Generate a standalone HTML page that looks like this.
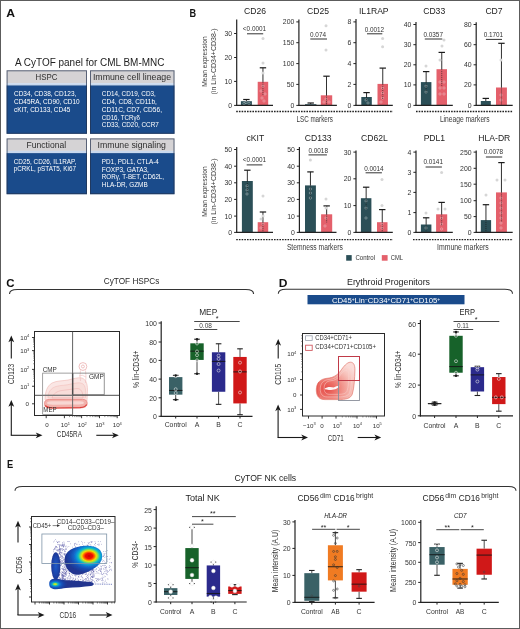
<!DOCTYPE html>
<html><head><meta charset="utf-8"><style>
html,body{margin:0;padding:0;background:#fff;width:520px;height:629px;overflow:hidden}
svg{display:block;will-change:transform}
text{font-family:"Liberation Sans", sans-serif}
</style></head><body>
<svg width="520" height="629" viewBox="0 0 520 629" font-family='"Liberation Sans", sans-serif'>
<defs>
<filter id="blur1" x="-20%" y="-20%" width="140%" height="140%"><feGaussianBlur stdDeviation="0.9"/></filter>
<filter id="blur05" x="-20%" y="-20%" width="140%" height="140%"><feGaussianBlur stdDeviation="0.5"/></filter>
<filter id="blur15" x="-30%" y="-30%" width="160%" height="160%"><feGaussianBlur stdDeviation="1.5"/></filter>
<radialGradient id="dblob" gradientUnits="userSpaceOnUse" cx="326" cy="389" r="36" gradientTransform="translate(326 389) scale(1 0.8) rotate(-30) translate(-326 -389)">
<stop offset="0" stop-color="#e44a46"/><stop offset="0.25" stop-color="#ec6e66"/><stop offset="0.5" stop-color="#f29a92"/><stop offset="0.75" stop-color="#f7c2bb"/><stop offset="1" stop-color="#fbdcd8"/></radialGradient>
<radialGradient id="jet1" gradientUnits="userSpaceOnUse" cx="89" cy="556" r="24" gradientTransform="translate(89 556) scale(1 0.72) translate(-89 -556)">
<stop offset="0" stop-color="#d00000"/><stop offset="0.15" stop-color="#f01000"/><stop offset="0.23" stop-color="#ff6a00"/><stop offset="0.3" stop-color="#f4e000"/><stop offset="0.37" stop-color="#90dc50"/><stop offset="0.45" stop-color="#10c0c0"/><stop offset="0.53" stop-color="#0a90d8"/><stop offset="0.64" stop-color="#1464c8"/><stop offset="0.8" stop-color="#1a46aa"/><stop offset="1" stop-color="#203490"/></radialGradient>
<radialGradient id="jet2" gradientUnits="userSpaceOnUse" cx="55.2" cy="584.2" r="12" gradientTransform="translate(55.2 584.2) scale(1 0.55) translate(-55.2 -584.2)">
<stop offset="0" stop-color="#f0e400"/><stop offset="0.12" stop-color="#a0e040"/><stop offset="0.22" stop-color="#20c0b0"/><stop offset="0.34" stop-color="#0a88d8"/><stop offset="0.5" stop-color="#1658c0"/><stop offset="0.75" stop-color="#1a40a2"/><stop offset="1" stop-color="#22358f"/></radialGradient>
<radialGradient id="jet3" cx="0.5" cy="0.5" r="0.55">
<stop offset="0" stop-color="#1a5ac8"/><stop offset="0.6" stop-color="#1a44aa"/><stop offset="1" stop-color="#233590"/></radialGradient>
</defs>
<rect x="0.00" y="0.00" width="520.00" height="629.00" fill="#ffffff" />
<text x="6.20" y="16.60" font-size="11.4" fill="#111" font-weight="bold" textLength="8.80" lengthAdjust="spacingAndGlyphs" >A</text>
<text x="15.00" y="65.60" font-size="10" fill="#222" textLength="149.40" lengthAdjust="spacingAndGlyphs" >A CyTOF panel for CML BM-MNC</text>
<rect x="6.60" y="70.30" width="80.40" height="12.90" fill="#d5d3d5" />
<rect x="6.60" y="83.20" width="80.40" height="2.20" fill="#c9d9ee" />
<rect x="6.60" y="85.40" width="80.40" height="48.40" fill="#1a4b8b" />
<rect x="7.10" y="70.80" width="79.40" height="62.50" fill="none" stroke="#23324f" stroke-width="1" opacity="0.7"/>
<text x="35.60" y="80.30" font-size="8.6" fill="#2e2e2e" textLength="21.90" lengthAdjust="spacingAndGlyphs" >HSPC</text>
<text x="14.00" y="95.60" font-size="6.5" fill="#ffffff" textLength="62.30" lengthAdjust="spacingAndGlyphs" >CD34, CD38, CD123,</text>
<text x="14.00" y="103.60" font-size="6.5" fill="#ffffff" textLength="65.70" lengthAdjust="spacingAndGlyphs" >CD45RA, CD90, CD10</text>
<text x="14.00" y="111.60" font-size="6.5" fill="#ffffff" textLength="56.40" lengthAdjust="spacingAndGlyphs" >cKIT, CD133, CD45</text>
<rect x="90.00" y="70.30" width="84.50" height="12.90" fill="#d5d3d5" />
<rect x="90.00" y="83.20" width="84.50" height="2.20" fill="#c9d9ee" />
<rect x="90.00" y="85.40" width="84.50" height="48.40" fill="#1a4b8b" />
<rect x="90.50" y="70.80" width="83.50" height="62.50" fill="none" stroke="#23324f" stroke-width="1" opacity="0.7"/>
<text x="92.90" y="80.30" font-size="8.6" fill="#2e2e2e" textLength="78.20" lengthAdjust="spacingAndGlyphs" >Immune cell lineage</text>
<text x="101.80" y="95.60" font-size="6.5" fill="#ffffff" textLength="54.00" lengthAdjust="spacingAndGlyphs" >CD14, CD19, CD3,</text>
<text x="101.80" y="103.60" font-size="6.5" fill="#ffffff" textLength="55.10" lengthAdjust="spacingAndGlyphs" >CD4, CD8, CD11b,</text>
<text x="101.80" y="111.60" font-size="6.5" fill="#ffffff" textLength="60.20" lengthAdjust="spacingAndGlyphs" >CD11C, CD7, CD56,</text>
<text x="101.80" y="119.50" font-size="6.5" fill="#ffffff" textLength="38.10" lengthAdjust="spacingAndGlyphs" >CD16, TCRγδ</text>
<text x="101.80" y="127.30" font-size="6.5" fill="#ffffff" textLength="57.10" lengthAdjust="spacingAndGlyphs" >CD33, CD20, CCR7</text>
<rect x="6.60" y="138.40" width="80.40" height="12.50" fill="#d5d3d5" />
<rect x="6.60" y="150.90" width="80.40" height="2.20" fill="#c9d9ee" />
<rect x="6.60" y="153.10" width="80.40" height="41.10" fill="#1a4b8b" />
<rect x="7.10" y="138.90" width="79.40" height="54.80" fill="none" stroke="#23324f" stroke-width="1" opacity="0.7"/>
<text x="26.60" y="148.00" font-size="8.6" fill="#2e2e2e" textLength="39.50" lengthAdjust="spacingAndGlyphs" >Functional</text>
<text x="13.70" y="163.90" font-size="6.5" fill="#ffffff" textLength="62.60" lengthAdjust="spacingAndGlyphs" >CD25, CD26, IL1RAP,</text>
<text x="13.70" y="171.30" font-size="6.5" fill="#ffffff" textLength="62.30" lengthAdjust="spacingAndGlyphs" >pCRKL, pSTAT5, Ki67</text>
<rect x="90.00" y="138.40" width="84.50" height="12.50" fill="#d5d3d5" />
<rect x="90.00" y="150.90" width="84.50" height="2.20" fill="#c9d9ee" />
<rect x="90.00" y="153.10" width="84.50" height="41.10" fill="#1a4b8b" />
<rect x="90.50" y="138.90" width="83.50" height="54.80" fill="none" stroke="#23324f" stroke-width="1" opacity="0.7"/>
<text x="97.50" y="148.00" font-size="8.6" fill="#2e2e2e" textLength="68.40" lengthAdjust="spacingAndGlyphs" >Immune signaling</text>
<text x="101.80" y="164.10" font-size="6.5" fill="#ffffff" textLength="57.10" lengthAdjust="spacingAndGlyphs" >PD1, PDL1, CTLA-4</text>
<text x="101.80" y="171.50" font-size="6.5" fill="#ffffff" textLength="47.10" lengthAdjust="spacingAndGlyphs" >FOXP3, GATA3,</text>
<text x="101.80" y="179.10" font-size="6.5" fill="#ffffff" textLength="62.30" lengthAdjust="spacingAndGlyphs" >RORγ, T-BET, CD62L,</text>
<text x="101.80" y="186.70" font-size="6.5" fill="#ffffff" textLength="45.90" lengthAdjust="spacingAndGlyphs" >HLA-DR, GZMB</text>
<text x="189.60" y="16.60" font-size="11.4" fill="#111" font-weight="bold" textLength="6.60" lengthAdjust="spacingAndGlyphs" >B</text>
<text x="255.00" y="13.70" font-size="8.6" text-anchor="middle" fill="#222" >CD26</text>
<rect x="240.90" y="101.20" width="11.00" height="4.20" fill="#2b4f57" />
<circle cx="246.00" cy="102.50" r="1.15" fill="none" stroke="#f4f4f4" stroke-width="0.55" opacity="0.6"/>
<circle cx="244.00" cy="103.50" r="1.15" fill="none" stroke="#f4f4f4" stroke-width="0.55" opacity="0.6"/>
<circle cx="249.00" cy="103.50" r="1.15" fill="none" stroke="#f4f4f4" stroke-width="0.55" opacity="0.6"/>
<line x1="246.40" y1="101.20" x2="246.40" y2="99.50" stroke="#1a1a1a" stroke-width="0.9" />
<line x1="243.20" y1="99.50" x2="249.60" y2="99.50" stroke="#1a1a1a" stroke-width="1.2" />
<rect x="257.70" y="81.80" width="10.50" height="23.60" fill="#e4606b" />
<circle cx="263.00" cy="86.00" r="1.15" fill="none" stroke="#f4f4f4" stroke-width="0.55" opacity="0.6"/>
<circle cx="261.00" cy="91.00" r="1.15" fill="none" stroke="#f4f4f4" stroke-width="0.55" opacity="0.6"/>
<circle cx="265.00" cy="94.00" r="1.15" fill="none" stroke="#f4f4f4" stroke-width="0.55" opacity="0.6"/>
<circle cx="262.00" cy="98.00" r="1.15" fill="none" stroke="#f4f4f4" stroke-width="0.55" opacity="0.6"/>
<circle cx="264.00" cy="101.00" r="1.15" fill="none" stroke="#f4f4f4" stroke-width="0.55" opacity="0.6"/>
<line x1="262.95" y1="81.80" x2="262.95" y2="67.80" stroke="#1a1a1a" stroke-width="0.9" />
<line x1="259.75" y1="67.80" x2="266.15" y2="67.80" stroke="#1a1a1a" stroke-width="1.2" />
<line x1="262.95" y1="81.80" x2="262.95" y2="95.80" stroke="#1a1a1a" stroke-width="0.9" stroke-dasharray="1 1" opacity="0.75"/>
<circle cx="263.00" cy="73.00" r="1.5" fill="#d6d6d6" />
<circle cx="263.00" cy="63.00" r="1.5" fill="#d6d6d6" />
<circle cx="263.00" cy="38.50" r="1.5" fill="#d6d6d6" />
<line x1="236.70" y1="19.50" x2="236.70" y2="106.00" stroke="#222222" stroke-width="1.2" />
<line x1="236.10" y1="105.40" x2="273.00" y2="105.40" stroke="#222222" stroke-width="1.2" />
<line x1="234.10" y1="105.40" x2="236.70" y2="105.40" stroke="#222222" stroke-width="1" />
<text x="232.10" y="107.80" font-size="6.9" text-anchor="end" fill="#333333" >0</text>
<line x1="234.10" y1="81.40" x2="236.70" y2="81.40" stroke="#222222" stroke-width="1" />
<text x="232.10" y="83.80" font-size="6.9" text-anchor="end" fill="#333333" >10</text>
<line x1="234.10" y1="57.50" x2="236.70" y2="57.50" stroke="#222222" stroke-width="1" />
<text x="232.10" y="59.90" font-size="6.9" text-anchor="end" fill="#333333" >20</text>
<line x1="234.10" y1="33.50" x2="236.70" y2="33.50" stroke="#222222" stroke-width="1" />
<text x="232.10" y="35.90" font-size="6.9" text-anchor="end" fill="#333333" >30</text>
<text x="254.50" y="31.30" font-size="6.4" text-anchor="middle" fill="#333" >&lt;0.0001</text>
<line x1="247.00" y1="33.80" x2="263.20" y2="33.80" stroke="#333" stroke-width="1.0" />
<text x="318.00" y="13.70" font-size="8.6" text-anchor="middle" fill="#222" >CD25</text>
<rect x="305.00" y="104.20" width="11.40" height="1.20" fill="#2b4f57" />
<line x1="310.70" y1="104.20" x2="310.70" y2="103.00" stroke="#1a1a1a" stroke-width="0.9" />
<line x1="307.50" y1="103.00" x2="313.90" y2="103.00" stroke="#1a1a1a" stroke-width="1.2" />
<rect x="320.80" y="95.30" width="11.40" height="10.10" fill="#e4606b" />
<circle cx="326.00" cy="99.00" r="1.15" fill="none" stroke="#f4f4f4" stroke-width="0.55" opacity="0.6"/>
<circle cx="324.00" cy="102.00" r="1.15" fill="none" stroke="#f4f4f4" stroke-width="0.55" opacity="0.6"/>
<circle cx="329.00" cy="102.00" r="1.15" fill="none" stroke="#f4f4f4" stroke-width="0.55" opacity="0.6"/>
<line x1="326.50" y1="95.30" x2="326.50" y2="76.20" stroke="#1a1a1a" stroke-width="0.9" />
<line x1="323.30" y1="76.20" x2="329.70" y2="76.20" stroke="#1a1a1a" stroke-width="1.2" />
<line x1="326.50" y1="95.30" x2="326.50" y2="104.40" stroke="#1a1a1a" stroke-width="0.9" stroke-dasharray="1 1" opacity="0.75"/>
<circle cx="326.00" cy="25.80" r="1.5" fill="#d6d6d6" />
<circle cx="326.00" cy="49.90" r="1.5" fill="#d6d6d6" />
<line x1="298.90" y1="19.60" x2="298.90" y2="106.00" stroke="#222222" stroke-width="1.2" />
<line x1="298.30" y1="105.40" x2="336.90" y2="105.40" stroke="#222222" stroke-width="1.2" />
<line x1="296.30" y1="105.40" x2="298.90" y2="105.40" stroke="#222222" stroke-width="1" />
<text x="294.30" y="107.80" font-size="6.9" text-anchor="end" fill="#333333" >0</text>
<line x1="296.30" y1="84.40" x2="298.90" y2="84.40" stroke="#222222" stroke-width="1" />
<text x="294.30" y="86.80" font-size="6.9" text-anchor="end" fill="#333333" >50</text>
<line x1="296.30" y1="63.60" x2="298.90" y2="63.60" stroke="#222222" stroke-width="1" />
<text x="294.30" y="66.00" font-size="6.9" text-anchor="end" fill="#333333" >100</text>
<line x1="296.30" y1="42.70" x2="298.90" y2="42.70" stroke="#222222" stroke-width="1" />
<text x="294.30" y="45.10" font-size="6.9" text-anchor="end" fill="#333333" >150</text>
<line x1="296.30" y1="21.90" x2="298.90" y2="21.90" stroke="#222222" stroke-width="1" />
<text x="294.30" y="24.30" font-size="6.9" text-anchor="end" fill="#333333" >200</text>
<text x="318.00" y="36.80" font-size="6.4" text-anchor="middle" fill="#333" >0.074</text>
<line x1="310.30" y1="39.00" x2="327.00" y2="39.00" stroke="#333" stroke-width="1.0" />
<text x="373.80" y="13.70" font-size="8.6" text-anchor="middle" fill="#222" >IL1RAP</text>
<rect x="361.30" y="97.00" width="10.50" height="8.40" fill="#2b4f57" />
<circle cx="366.00" cy="100.00" r="1.15" fill="none" stroke="#f4f4f4" stroke-width="0.55" opacity="0.6"/>
<circle cx="368.00" cy="103.00" r="1.15" fill="none" stroke="#f4f4f4" stroke-width="0.55" opacity="0.6"/>
<line x1="366.55" y1="97.00" x2="366.55" y2="92.60" stroke="#1a1a1a" stroke-width="0.9" />
<line x1="363.35" y1="92.60" x2="369.75" y2="92.60" stroke="#1a1a1a" stroke-width="1.2" />
<line x1="366.55" y1="97.00" x2="366.55" y2="101.40" stroke="#1a1a1a" stroke-width="0.9" stroke-dasharray="1 1" opacity="0.75"/>
<rect x="377.50" y="83.90" width="10.50" height="21.50" fill="#e4606b" />
<circle cx="382.60" cy="88.00" r="1.15" fill="none" stroke="#f4f4f4" stroke-width="0.55" opacity="0.6"/>
<circle cx="382.60" cy="93.00" r="1.15" fill="none" stroke="#f4f4f4" stroke-width="0.55" opacity="0.6"/>
<circle cx="382.60" cy="98.00" r="1.15" fill="none" stroke="#f4f4f4" stroke-width="0.55" opacity="0.6"/>
<circle cx="381.00" cy="102.00" r="1.15" fill="none" stroke="#f4f4f4" stroke-width="0.55" opacity="0.6"/>
<line x1="382.75" y1="83.90" x2="382.75" y2="68.10" stroke="#1a1a1a" stroke-width="0.9" />
<line x1="379.55" y1="68.10" x2="385.95" y2="68.10" stroke="#1a1a1a" stroke-width="1.2" />
<line x1="382.75" y1="83.90" x2="382.75" y2="99.70" stroke="#1a1a1a" stroke-width="0.9" stroke-dasharray="1 1" opacity="0.75"/>
<circle cx="382.60" cy="38.40" r="1.5" fill="#d6d6d6" />
<circle cx="382.60" cy="46.80" r="1.5" fill="#d6d6d6" />
<line x1="356.00" y1="19.10" x2="356.00" y2="106.00" stroke="#222222" stroke-width="1.2" />
<line x1="355.40" y1="105.40" x2="392.80" y2="105.40" stroke="#222222" stroke-width="1.2" />
<line x1="353.40" y1="105.40" x2="356.00" y2="105.40" stroke="#222222" stroke-width="1" />
<text x="351.40" y="107.80" font-size="6.9" text-anchor="end" fill="#333333" >0</text>
<line x1="353.40" y1="84.40" x2="356.00" y2="84.40" stroke="#222222" stroke-width="1" />
<text x="351.40" y="86.80" font-size="6.9" text-anchor="end" fill="#333333" >2</text>
<line x1="353.40" y1="63.60" x2="356.00" y2="63.60" stroke="#222222" stroke-width="1" />
<text x="351.40" y="66.00" font-size="6.9" text-anchor="end" fill="#333333" >4</text>
<line x1="353.40" y1="42.70" x2="356.00" y2="42.70" stroke="#222222" stroke-width="1" />
<text x="351.40" y="45.10" font-size="6.9" text-anchor="end" fill="#333333" >6</text>
<line x1="353.40" y1="21.90" x2="356.00" y2="21.90" stroke="#222222" stroke-width="1" />
<text x="351.40" y="24.30" font-size="6.9" text-anchor="end" fill="#333333" >8</text>
<text x="374.40" y="31.90" font-size="6.4" text-anchor="middle" fill="#333" >0.0012</text>
<line x1="367.00" y1="33.80" x2="382.30" y2="33.80" stroke="#333" stroke-width="1.0" />
<text x="434.20" y="13.70" font-size="8.6" text-anchor="middle" fill="#222" >CD33</text>
<rect x="420.90" y="82.10" width="10.50" height="23.30" fill="#2b4f57" />
<circle cx="426.00" cy="86.00" r="1.15" fill="none" stroke="#f4f4f4" stroke-width="0.55" opacity="0.6"/>
<circle cx="426.00" cy="92.00" r="1.15" fill="none" stroke="#f4f4f4" stroke-width="0.55" opacity="0.6"/>
<line x1="426.15" y1="82.10" x2="426.15" y2="71.60" stroke="#1a1a1a" stroke-width="0.9" />
<line x1="422.95" y1="71.60" x2="429.35" y2="71.60" stroke="#1a1a1a" stroke-width="1.2" />
<line x1="426.15" y1="82.10" x2="426.15" y2="92.60" stroke="#1a1a1a" stroke-width="0.9" stroke-dasharray="1 1" opacity="0.75"/>
<rect x="436.50" y="69.20" width="10.50" height="36.20" fill="#e4606b" />
<circle cx="440.00" cy="82.00" r="1.15" fill="none" stroke="#f4f4f4" stroke-width="0.55" opacity="0.6"/>
<circle cx="444.00" cy="82.00" r="1.15" fill="none" stroke="#f4f4f4" stroke-width="0.55" opacity="0.6"/>
<circle cx="440.00" cy="88.00" r="1.15" fill="none" stroke="#f4f4f4" stroke-width="0.55" opacity="0.6"/>
<circle cx="444.00" cy="88.00" r="1.15" fill="none" stroke="#f4f4f4" stroke-width="0.55" opacity="0.6"/>
<circle cx="440.00" cy="94.00" r="1.15" fill="none" stroke="#f4f4f4" stroke-width="0.55" opacity="0.6"/>
<circle cx="444.00" cy="94.00" r="1.15" fill="none" stroke="#f4f4f4" stroke-width="0.55" opacity="0.6"/>
<line x1="441.75" y1="69.20" x2="441.75" y2="52.40" stroke="#1a1a1a" stroke-width="0.9" />
<line x1="438.55" y1="52.40" x2="444.95" y2="52.40" stroke="#1a1a1a" stroke-width="1.2" />
<line x1="441.75" y1="69.20" x2="441.75" y2="86.00" stroke="#1a1a1a" stroke-width="0.9" stroke-dasharray="1 1" opacity="0.75"/>
<circle cx="426.00" cy="66.00" r="1.5" fill="#d6d6d6" />
<circle cx="442.00" cy="46.00" r="1.5" fill="#d6d6d6" />
<circle cx="444.00" cy="40.00" r="1.5" fill="#d6d6d6" />
<circle cx="440.00" cy="60.00" r="1.5" fill="#d6d6d6" />
<line x1="416.00" y1="21.90" x2="416.00" y2="106.00" stroke="#222222" stroke-width="1.2" />
<line x1="415.40" y1="105.40" x2="452.80" y2="105.40" stroke="#222222" stroke-width="1.2" />
<line x1="413.40" y1="105.40" x2="416.00" y2="105.40" stroke="#222222" stroke-width="1" />
<text x="411.40" y="107.80" font-size="6.9" text-anchor="end" fill="#333333" >0</text>
<line x1="413.40" y1="84.90" x2="416.00" y2="84.90" stroke="#222222" stroke-width="1" />
<text x="411.40" y="87.30" font-size="6.9" text-anchor="end" fill="#333333" >10</text>
<line x1="413.40" y1="64.80" x2="416.00" y2="64.80" stroke="#222222" stroke-width="1" />
<text x="411.40" y="67.20" font-size="6.9" text-anchor="end" fill="#333333" >20</text>
<line x1="413.40" y1="44.70" x2="416.00" y2="44.70" stroke="#222222" stroke-width="1" />
<text x="411.40" y="47.10" font-size="6.9" text-anchor="end" fill="#333333" >30</text>
<line x1="413.40" y1="24.50" x2="416.00" y2="24.50" stroke="#222222" stroke-width="1" />
<text x="411.40" y="26.90" font-size="6.9" text-anchor="end" fill="#333333" >40</text>
<text x="433.20" y="37.10" font-size="6.4" text-anchor="middle" fill="#333" >0.0357</text>
<line x1="424.80" y1="39.00" x2="442.30" y2="39.00" stroke="#333" stroke-width="1.0" />
<text x="494.00" y="13.70" font-size="8.6" text-anchor="middle" fill="#222" >CD7</text>
<rect x="480.80" y="101.00" width="10.00" height="4.40" fill="#2b4f57" />
<line x1="485.80" y1="101.00" x2="485.80" y2="98.40" stroke="#1a1a1a" stroke-width="0.9" />
<line x1="482.60" y1="98.40" x2="489.00" y2="98.40" stroke="#1a1a1a" stroke-width="1.2" />
<rect x="496.00" y="87.50" width="10.90" height="17.90" fill="#e4606b" />
<circle cx="501.00" cy="95.00" r="1.15" fill="none" stroke="#f4f4f4" stroke-width="0.55" opacity="0.6"/>
<circle cx="501.00" cy="100.00" r="1.15" fill="none" stroke="#f4f4f4" stroke-width="0.55" opacity="0.6"/>
<line x1="501.45" y1="87.50" x2="501.45" y2="43.30" stroke="#1a1a1a" stroke-width="0.9" />
<line x1="498.25" y1="43.30" x2="504.65" y2="43.30" stroke="#1a1a1a" stroke-width="1.2" />
<line x1="501.45" y1="87.50" x2="501.45" y2="104.40" stroke="#1a1a1a" stroke-width="0.9" stroke-dasharray="1 1" opacity="0.75"/>
<circle cx="501.00" cy="60.00" r="1.5" fill="#d6d6d6" />
<line x1="476.20" y1="22.30" x2="476.20" y2="106.00" stroke="#222222" stroke-width="1.2" />
<line x1="475.60" y1="105.40" x2="512.70" y2="105.40" stroke="#222222" stroke-width="1.2" />
<line x1="473.60" y1="105.40" x2="476.20" y2="105.40" stroke="#222222" stroke-width="1" />
<text x="471.60" y="107.80" font-size="6.9" text-anchor="end" fill="#333333" >0</text>
<line x1="473.60" y1="84.90" x2="476.20" y2="84.90" stroke="#222222" stroke-width="1" />
<text x="471.60" y="87.30" font-size="6.9" text-anchor="end" fill="#333333" >20</text>
<line x1="473.60" y1="64.80" x2="476.20" y2="64.80" stroke="#222222" stroke-width="1" />
<text x="471.60" y="67.20" font-size="6.9" text-anchor="end" fill="#333333" >40</text>
<line x1="473.60" y1="44.70" x2="476.20" y2="44.70" stroke="#222222" stroke-width="1" />
<text x="471.60" y="47.10" font-size="6.9" text-anchor="end" fill="#333333" >60</text>
<line x1="473.60" y1="24.50" x2="476.20" y2="24.50" stroke="#222222" stroke-width="1" />
<text x="471.60" y="26.90" font-size="6.9" text-anchor="end" fill="#333333" >80</text>
<text x="493.40" y="37.10" font-size="6.4" text-anchor="middle" fill="#333" >0.1701</text>
<line x1="485.90" y1="39.40" x2="502.00" y2="39.40" stroke="#333" stroke-width="1.0" />
<text x="255.40" y="140.80" font-size="8.6" text-anchor="middle" fill="#222" >cKIT</text>
<rect x="241.90" y="181.00" width="10.90" height="51.40" fill="#2b4f57" />
<circle cx="247.00" cy="186.00" r="1.15" fill="none" stroke="#f4f4f4" stroke-width="0.55" opacity="0.6"/>
<circle cx="247.00" cy="190.00" r="1.15" fill="none" stroke="#f4f4f4" stroke-width="0.55" opacity="0.6"/>
<circle cx="247.00" cy="194.00" r="1.15" fill="none" stroke="#f4f4f4" stroke-width="0.55" opacity="0.6"/>
<line x1="247.35" y1="181.00" x2="247.35" y2="170.20" stroke="#1a1a1a" stroke-width="0.9" />
<line x1="244.15" y1="170.20" x2="250.55" y2="170.20" stroke="#1a1a1a" stroke-width="1.2" />
<line x1="247.35" y1="181.00" x2="247.35" y2="191.80" stroke="#1a1a1a" stroke-width="0.9" stroke-dasharray="1 1" opacity="0.75"/>
<rect x="257.70" y="222.20" width="10.50" height="10.20" fill="#e4606b" />
<circle cx="263.00" cy="224.00" r="1.15" fill="none" stroke="#f4f4f4" stroke-width="0.55" opacity="0.6"/>
<circle cx="261.00" cy="228.00" r="1.15" fill="none" stroke="#f4f4f4" stroke-width="0.55" opacity="0.6"/>
<line x1="262.95" y1="222.20" x2="262.95" y2="212.00" stroke="#1a1a1a" stroke-width="0.9" />
<line x1="259.75" y1="212.00" x2="266.15" y2="212.00" stroke="#1a1a1a" stroke-width="1.2" />
<line x1="262.95" y1="222.20" x2="262.95" y2="231.40" stroke="#1a1a1a" stroke-width="0.9" stroke-dasharray="1 1" opacity="0.75"/>
<circle cx="263.00" cy="196.00" r="1.5" fill="#d6d6d6" />
<circle cx="263.00" cy="216.00" r="1.5" fill="#d6d6d6" />
<circle cx="261.00" cy="219.00" r="1.5" fill="#d6d6d6" />
<line x1="236.70" y1="146.90" x2="236.70" y2="233.00" stroke="#222222" stroke-width="1.2" />
<line x1="236.10" y1="232.40" x2="273.00" y2="232.40" stroke="#222222" stroke-width="1.2" />
<line x1="234.10" y1="232.40" x2="236.70" y2="232.40" stroke="#222222" stroke-width="1" />
<text x="232.10" y="234.80" font-size="6.9" text-anchor="end" fill="#333333" >0</text>
<line x1="234.10" y1="216.10" x2="236.70" y2="216.10" stroke="#222222" stroke-width="1" />
<text x="232.10" y="218.50" font-size="6.9" text-anchor="end" fill="#333333" >10</text>
<line x1="234.10" y1="199.40" x2="236.70" y2="199.40" stroke="#222222" stroke-width="1" />
<text x="232.10" y="201.80" font-size="6.9" text-anchor="end" fill="#333333" >20</text>
<line x1="234.10" y1="182.80" x2="236.70" y2="182.80" stroke="#222222" stroke-width="1" />
<text x="232.10" y="185.20" font-size="6.9" text-anchor="end" fill="#333333" >30</text>
<line x1="234.10" y1="166.20" x2="236.70" y2="166.20" stroke="#222222" stroke-width="1" />
<text x="232.10" y="168.60" font-size="6.9" text-anchor="end" fill="#333333" >40</text>
<line x1="234.10" y1="149.50" x2="236.70" y2="149.50" stroke="#222222" stroke-width="1" />
<text x="232.10" y="151.90" font-size="6.9" text-anchor="end" fill="#333333" >50</text>
<text x="254.50" y="162.30" font-size="6.4" text-anchor="middle" fill="#333" >&lt;0.0001</text>
<line x1="246.70" y1="164.90" x2="262.40" y2="164.90" stroke="#333" stroke-width="1.0" />
<text x="318.20" y="141.00" font-size="8.6" text-anchor="middle" fill="#222" >CD133</text>
<rect x="305.00" y="185.40" width="10.90" height="47.00" fill="#2b4f57" />
<circle cx="310.40" cy="189.00" r="1.15" fill="none" stroke="#f4f4f4" stroke-width="0.55" opacity="0.6"/>
<circle cx="310.40" cy="193.00" r="1.15" fill="none" stroke="#f4f4f4" stroke-width="0.55" opacity="0.6"/>
<circle cx="310.40" cy="198.00" r="1.15" fill="none" stroke="#f4f4f4" stroke-width="0.55" opacity="0.6"/>
<line x1="310.45" y1="185.40" x2="310.45" y2="171.90" stroke="#1a1a1a" stroke-width="0.9" />
<line x1="307.25" y1="171.90" x2="313.65" y2="171.90" stroke="#1a1a1a" stroke-width="1.2" />
<line x1="310.45" y1="185.40" x2="310.45" y2="198.90" stroke="#1a1a1a" stroke-width="0.9" stroke-dasharray="1 1" opacity="0.75"/>
<rect x="321.10" y="214.30" width="11.10" height="18.10" fill="#e4606b" />
<circle cx="326.00" cy="212.00" r="1.15" fill="none" stroke="#f4f4f4" stroke-width="0.55" opacity="0.6"/>
<circle cx="326.00" cy="218.00" r="1.15" fill="none" stroke="#f4f4f4" stroke-width="0.55" opacity="0.6"/>
<circle cx="325.00" cy="226.00" r="1.15" fill="none" stroke="#f4f4f4" stroke-width="0.55" opacity="0.6"/>
<line x1="326.65" y1="214.30" x2="326.65" y2="205.90" stroke="#1a1a1a" stroke-width="0.9" />
<line x1="323.45" y1="205.90" x2="329.85" y2="205.90" stroke="#1a1a1a" stroke-width="1.2" />
<line x1="326.65" y1="214.30" x2="326.65" y2="222.70" stroke="#1a1a1a" stroke-width="0.9" stroke-dasharray="1 1" opacity="0.75"/>
<circle cx="310.40" cy="160.00" r="1.5" fill="#d6d6d6" />
<circle cx="326.00" cy="199.00" r="1.5" fill="#d6d6d6" />
<circle cx="326.00" cy="208.00" r="1.5" fill="#d6d6d6" />
<line x1="299.40" y1="146.90" x2="299.40" y2="233.00" stroke="#222222" stroke-width="1.2" />
<line x1="298.80" y1="232.40" x2="336.50" y2="232.40" stroke="#222222" stroke-width="1.2" />
<line x1="296.80" y1="232.40" x2="299.40" y2="232.40" stroke="#222222" stroke-width="1" />
<text x="294.80" y="234.80" font-size="6.9" text-anchor="end" fill="#333333" >0</text>
<line x1="296.80" y1="216.10" x2="299.40" y2="216.10" stroke="#222222" stroke-width="1" />
<text x="294.80" y="218.50" font-size="6.9" text-anchor="end" fill="#333333" >10</text>
<line x1="296.80" y1="199.40" x2="299.40" y2="199.40" stroke="#222222" stroke-width="1" />
<text x="294.80" y="201.80" font-size="6.9" text-anchor="end" fill="#333333" >20</text>
<line x1="296.80" y1="182.80" x2="299.40" y2="182.80" stroke="#222222" stroke-width="1" />
<text x="294.80" y="185.20" font-size="6.9" text-anchor="end" fill="#333333" >30</text>
<line x1="296.80" y1="166.20" x2="299.40" y2="166.20" stroke="#222222" stroke-width="1" />
<text x="294.80" y="168.60" font-size="6.9" text-anchor="end" fill="#333333" >40</text>
<line x1="296.80" y1="149.50" x2="299.40" y2="149.50" stroke="#222222" stroke-width="1" />
<text x="294.80" y="151.90" font-size="6.9" text-anchor="end" fill="#333333" >50</text>
<text x="318.20" y="152.60" font-size="6.4" text-anchor="middle" fill="#333" >0.0018</text>
<line x1="308.50" y1="154.90" x2="326.90" y2="154.90" stroke="#333" stroke-width="1.0" />
<text x="374.40" y="141.00" font-size="8.6" text-anchor="middle" fill="#222" >CD62L</text>
<rect x="360.90" y="198.20" width="10.50" height="34.20" fill="#2b4f57" />
<circle cx="366.00" cy="201.00" r="1.15" fill="none" stroke="#f4f4f4" stroke-width="0.55" opacity="0.6"/>
<circle cx="366.00" cy="208.00" r="1.15" fill="none" stroke="#f4f4f4" stroke-width="0.55" opacity="0.6"/>
<circle cx="366.00" cy="218.00" r="1.15" fill="none" stroke="#f4f4f4" stroke-width="0.55" opacity="0.6"/>
<line x1="366.15" y1="198.20" x2="366.15" y2="187.20" stroke="#1a1a1a" stroke-width="0.9" />
<line x1="362.95" y1="187.20" x2="369.35" y2="187.20" stroke="#1a1a1a" stroke-width="1.2" />
<line x1="366.15" y1="198.20" x2="366.15" y2="209.20" stroke="#1a1a1a" stroke-width="0.9" stroke-dasharray="1 1" opacity="0.75"/>
<rect x="377.00" y="222.20" width="10.50" height="10.20" fill="#e4606b" />
<circle cx="382.00" cy="224.00" r="1.15" fill="none" stroke="#f4f4f4" stroke-width="0.55" opacity="0.6"/>
<circle cx="382.00" cy="228.00" r="1.15" fill="none" stroke="#f4f4f4" stroke-width="0.55" opacity="0.6"/>
<line x1="382.25" y1="222.20" x2="382.25" y2="209.60" stroke="#1a1a1a" stroke-width="0.9" />
<line x1="379.05" y1="209.60" x2="385.45" y2="209.60" stroke="#1a1a1a" stroke-width="1.2" />
<line x1="382.25" y1="222.20" x2="382.25" y2="231.40" stroke="#1a1a1a" stroke-width="0.9" stroke-dasharray="1 1" opacity="0.75"/>
<circle cx="382.00" cy="179.50" r="1.5" fill="#d6d6d6" />
<circle cx="382.00" cy="205.50" r="1.5" fill="#d6d6d6" />
<line x1="356.00" y1="150.40" x2="356.00" y2="233.00" stroke="#222222" stroke-width="1.2" />
<line x1="355.40" y1="232.40" x2="392.80" y2="232.40" stroke="#222222" stroke-width="1.2" />
<line x1="353.40" y1="232.40" x2="356.00" y2="232.40" stroke="#222222" stroke-width="1" />
<text x="351.40" y="234.80" font-size="6.9" text-anchor="end" fill="#333333" >0</text>
<line x1="353.40" y1="205.60" x2="356.00" y2="205.60" stroke="#222222" stroke-width="1" />
<text x="351.40" y="208.00" font-size="6.9" text-anchor="end" fill="#333333" >10</text>
<line x1="353.40" y1="178.80" x2="356.00" y2="178.80" stroke="#222222" stroke-width="1" />
<text x="351.40" y="181.20" font-size="6.9" text-anchor="end" fill="#333333" >20</text>
<line x1="353.40" y1="152.10" x2="356.00" y2="152.10" stroke="#222222" stroke-width="1" />
<text x="351.40" y="154.50" font-size="6.9" text-anchor="end" fill="#333333" >30</text>
<text x="373.90" y="170.70" font-size="6.4" text-anchor="middle" fill="#333" >0.0014</text>
<line x1="365.60" y1="172.80" x2="381.90" y2="172.80" stroke="#333" stroke-width="1.0" />
<text x="434.40" y="141.00" font-size="8.6" text-anchor="middle" fill="#222" >PDL1</text>
<rect x="420.90" y="224.50" width="10.50" height="7.90" fill="#2b4f57" />
<circle cx="426.00" cy="228.00" r="1.15" fill="none" stroke="#f4f4f4" stroke-width="0.55" opacity="0.6"/>
<line x1="426.15" y1="224.50" x2="426.15" y2="217.80" stroke="#1a1a1a" stroke-width="0.9" />
<line x1="422.95" y1="217.80" x2="429.35" y2="217.80" stroke="#1a1a1a" stroke-width="1.2" />
<line x1="426.15" y1="224.50" x2="426.15" y2="231.20" stroke="#1a1a1a" stroke-width="0.9" stroke-dasharray="1 1" opacity="0.75"/>
<rect x="436.10" y="214.30" width="11.10" height="18.10" fill="#e4606b" />
<circle cx="441.60" cy="218.00" r="1.15" fill="none" stroke="#f4f4f4" stroke-width="0.55" opacity="0.6"/>
<circle cx="441.60" cy="224.00" r="1.15" fill="none" stroke="#f4f4f4" stroke-width="0.55" opacity="0.6"/>
<circle cx="441.60" cy="229.00" r="1.15" fill="none" stroke="#f4f4f4" stroke-width="0.55" opacity="0.6"/>
<line x1="441.65" y1="214.30" x2="441.65" y2="202.40" stroke="#1a1a1a" stroke-width="0.9" />
<line x1="438.45" y1="202.40" x2="444.85" y2="202.40" stroke="#1a1a1a" stroke-width="1.2" />
<line x1="441.65" y1="214.30" x2="441.65" y2="226.20" stroke="#1a1a1a" stroke-width="0.9" stroke-dasharray="1 1" opacity="0.75"/>
<circle cx="426.00" cy="213.00" r="1.5" fill="#d6d6d6" />
<circle cx="441.60" cy="172.50" r="1.5" fill="#d6d6d6" />
<circle cx="438.00" cy="209.00" r="1.5" fill="#d6d6d6" />
<circle cx="445.00" cy="209.00" r="1.5" fill="#d6d6d6" />
<line x1="416.00" y1="150.40" x2="416.00" y2="233.00" stroke="#222222" stroke-width="1.2" />
<line x1="415.40" y1="232.40" x2="452.80" y2="232.40" stroke="#222222" stroke-width="1.2" />
<line x1="413.40" y1="232.40" x2="416.00" y2="232.40" stroke="#222222" stroke-width="1" />
<text x="411.40" y="234.80" font-size="6.9" text-anchor="end" fill="#333333" >0</text>
<line x1="413.40" y1="212.60" x2="416.00" y2="212.60" stroke="#222222" stroke-width="1" />
<text x="411.40" y="215.00" font-size="6.9" text-anchor="end" fill="#333333" >1</text>
<line x1="413.40" y1="192.40" x2="416.00" y2="192.40" stroke="#222222" stroke-width="1" />
<text x="411.40" y="194.80" font-size="6.9" text-anchor="end" fill="#333333" >2</text>
<line x1="413.40" y1="172.30" x2="416.00" y2="172.30" stroke="#222222" stroke-width="1" />
<text x="411.40" y="174.70" font-size="6.9" text-anchor="end" fill="#333333" >3</text>
<line x1="413.40" y1="152.10" x2="416.00" y2="152.10" stroke="#222222" stroke-width="1" />
<text x="411.40" y="154.50" font-size="6.9" text-anchor="end" fill="#333333" >4</text>
<text x="433.20" y="164.30" font-size="6.4" text-anchor="middle" fill="#333" >0.0141</text>
<line x1="425.60" y1="167.00" x2="441.90" y2="167.00" stroke="#333" stroke-width="1.0" />
<text x="494.30" y="141.00" font-size="8.6" text-anchor="middle" fill="#222" >HLA-DR</text>
<rect x="480.80" y="220.10" width="10.30" height="12.30" fill="#2b4f57" />
<line x1="485.95" y1="220.10" x2="485.95" y2="204.70" stroke="#1a1a1a" stroke-width="0.9" />
<line x1="482.75" y1="204.70" x2="489.15" y2="204.70" stroke="#1a1a1a" stroke-width="1.2" />
<line x1="485.95" y1="220.10" x2="485.95" y2="231.40" stroke="#1a1a1a" stroke-width="0.9" stroke-dasharray="1 1" opacity="0.75"/>
<rect x="496.00" y="192.40" width="10.90" height="40.00" fill="#e4606b" />
<circle cx="501.00" cy="198.00" r="1.15" fill="none" stroke="#f4f4f4" stroke-width="0.55" opacity="0.6"/>
<circle cx="501.00" cy="203.00" r="1.15" fill="none" stroke="#f4f4f4" stroke-width="0.55" opacity="0.6"/>
<circle cx="501.00" cy="208.00" r="1.15" fill="none" stroke="#f4f4f4" stroke-width="0.55" opacity="0.6"/>
<circle cx="501.00" cy="213.00" r="1.15" fill="none" stroke="#f4f4f4" stroke-width="0.55" opacity="0.6"/>
<circle cx="501.00" cy="218.00" r="1.15" fill="none" stroke="#f4f4f4" stroke-width="0.55" opacity="0.6"/>
<circle cx="501.00" cy="223.00" r="1.15" fill="none" stroke="#f4f4f4" stroke-width="0.55" opacity="0.6"/>
<circle cx="501.00" cy="228.00" r="1.15" fill="none" stroke="#f4f4f4" stroke-width="0.55" opacity="0.6"/>
<line x1="501.45" y1="192.40" x2="501.45" y2="162.60" stroke="#1a1a1a" stroke-width="0.9" />
<line x1="498.25" y1="162.60" x2="504.65" y2="162.60" stroke="#1a1a1a" stroke-width="1.2" />
<line x1="501.45" y1="192.40" x2="501.45" y2="222.20" stroke="#1a1a1a" stroke-width="0.9" stroke-dasharray="1 1" opacity="0.75"/>
<circle cx="486.00" cy="195.00" r="1.5" fill="#d6d6d6" />
<circle cx="497.00" cy="180.00" r="1.5" fill="#d6d6d6" />
<circle cx="505.00" cy="180.00" r="1.5" fill="#d6d6d6" />
<line x1="476.20" y1="150.40" x2="476.20" y2="233.00" stroke="#222222" stroke-width="1.2" />
<line x1="475.60" y1="232.40" x2="512.70" y2="232.40" stroke="#222222" stroke-width="1.2" />
<line x1="473.60" y1="232.40" x2="476.20" y2="232.40" stroke="#222222" stroke-width="1" />
<text x="471.60" y="234.80" font-size="6.9" text-anchor="end" fill="#333333" >0</text>
<line x1="473.60" y1="216.60" x2="476.20" y2="216.60" stroke="#222222" stroke-width="1" />
<text x="471.60" y="219.00" font-size="6.9" text-anchor="end" fill="#333333" >50</text>
<line x1="473.60" y1="200.70" x2="476.20" y2="200.70" stroke="#222222" stroke-width="1" />
<text x="471.60" y="203.10" font-size="6.9" text-anchor="end" fill="#333333" >100</text>
<line x1="473.60" y1="184.20" x2="476.20" y2="184.20" stroke="#222222" stroke-width="1" />
<text x="471.60" y="186.60" font-size="6.9" text-anchor="end" fill="#333333" >150</text>
<line x1="473.60" y1="168.30" x2="476.20" y2="168.30" stroke="#222222" stroke-width="1" />
<text x="471.60" y="170.70" font-size="6.9" text-anchor="end" fill="#333333" >200</text>
<line x1="473.60" y1="152.10" x2="476.20" y2="152.10" stroke="#222222" stroke-width="1" />
<text x="471.60" y="154.50" font-size="6.9" text-anchor="end" fill="#333333" >250</text>
<text x="493.40" y="154.40" font-size="6.4" text-anchor="middle" fill="#333" >0.0078</text>
<line x1="485.90" y1="157.00" x2="502.20" y2="157.00" stroke="#333" stroke-width="1.0" />
<text x="206.70" y="61.50" font-size="7.9" text-anchor="middle" fill="#3a3a3a" textLength="50.30" lengthAdjust="spacingAndGlyphs" transform="rotate(-90 206.70 61.50)" >Mean expression</text>
<text x="216.00" y="61.50" font-size="7.9" text-anchor="middle" fill="#3a3a3a" textLength="66.00" lengthAdjust="spacingAndGlyphs" transform="rotate(-90 216.00 61.50)" >(in Lin-CD34+CD38-)</text>
<text x="206.70" y="191.50" font-size="7.9" text-anchor="middle" fill="#3a3a3a" textLength="50.30" lengthAdjust="spacingAndGlyphs" transform="rotate(-90 206.70 191.50)" >Mean expression</text>
<text x="216.00" y="191.50" font-size="7.9" text-anchor="middle" fill="#3a3a3a" textLength="66.00" lengthAdjust="spacingAndGlyphs" transform="rotate(-90 216.00 191.50)" >(in Lin-CD34+CD38-)</text>
<line x1="236.20" y1="111.50" x2="393.00" y2="111.50" stroke="#222" stroke-width="1.4" stroke-dasharray="1.6 1.1"/>
<line x1="416.00" y1="111.50" x2="513.00" y2="111.50" stroke="#222" stroke-width="1.4" stroke-dasharray="1.6 1.1"/>
<line x1="236.20" y1="239.60" x2="393.00" y2="239.60" stroke="#222" stroke-width="1.4" stroke-dasharray="1.6 1.1"/>
<line x1="413.00" y1="239.60" x2="513.00" y2="239.60" stroke="#222" stroke-width="1.4" stroke-dasharray="1.6 1.1"/>
<text x="296.50" y="122.30" font-size="8.4" fill="#3a3a3a" textLength="36.50" lengthAdjust="spacingAndGlyphs" >LSC markers</text>
<text x="439.90" y="122.40" font-size="8.4" fill="#3a3a3a" textLength="49.80" lengthAdjust="spacingAndGlyphs" >Lineage markers</text>
<text x="286.90" y="249.90" font-size="8.4" fill="#3a3a3a" textLength="55.90" lengthAdjust="spacingAndGlyphs" >Stemness markers</text>
<text x="437.00" y="249.60" font-size="8.4" fill="#3a3a3a" textLength="51.80" lengthAdjust="spacingAndGlyphs" >Immune markers</text>
<rect x="346.20" y="255.10" width="5.50" height="5.60" fill="#2b4f57" />
<text x="355.40" y="260.40" font-size="6.4" fill="#333" textLength="19.60" lengthAdjust="spacingAndGlyphs" >Control</text>
<rect x="381.80" y="255.10" width="5.80" height="5.60" fill="#e4606b" />
<text x="390.80" y="260.40" font-size="6.4" fill="#333" textLength="12.20" lengthAdjust="spacingAndGlyphs" >CML</text>
<text x="6.20" y="287.00" font-size="11.4" fill="#111" font-weight="bold" textLength="8.30" lengthAdjust="spacingAndGlyphs" >C</text>
<text x="103.75" y="284.10" font-size="8.2" fill="#2a2a2a" textLength="55.60" lengthAdjust="spacingAndGlyphs" >CyTOF HSPCs</text>
<path d="M9.50 293.90 Q9.50 289.50 17.20 289.50 L245.90 289.50 Q253.60 289.50 253.60 293.90" fill="none" stroke="#333" stroke-width="1.1"/>
<line x1="175.70" y1="375.33" x2="175.70" y2="377.10" stroke="#3a3a3a" stroke-width="0.9" />
<line x1="175.70" y1="394.65" x2="175.70" y2="399.69" stroke="#3a3a3a" stroke-width="0.9" />
<line x1="172.90" y1="375.33" x2="178.50" y2="375.33" stroke="#222" stroke-width="1.1" />
<line x1="172.90" y1="399.69" x2="178.50" y2="399.69" stroke="#222" stroke-width="1.1" />
<rect x="169.00" y="377.10" width="13.40" height="17.55" fill="#3a6166" />
<line x1="169.00" y1="390.45" x2="182.40" y2="390.45" stroke="#141414" stroke-width="1.1" opacity="0.8"/>
<circle cx="175.70" cy="376.17" r="1.5" fill="none" stroke="#e8e8e8" stroke-width="0.7" opacity="0.85"/>
<circle cx="175.70" cy="389.23" r="1.5" fill="none" stroke="#e8e8e8" stroke-width="0.7" opacity="0.85"/>
<circle cx="175.70" cy="392.97" r="1.5" fill="none" stroke="#e8e8e8" stroke-width="0.7" opacity="0.85"/>
<circle cx="175.70" cy="375.33" r="1.2" fill="#1a1a1a" />
<circle cx="175.70" cy="399.69" r="1.2" fill="#1a1a1a" />
<line x1="175.70" y1="416.30" x2="175.70" y2="418.50" stroke="#222" stroke-width="1" />
<text x="175.70" y="427.30" font-size="6.9" text-anchor="middle" fill="#333" textLength="22.00" lengthAdjust="spacingAndGlyphs" >Control</text>
<line x1="197.00" y1="339.21" x2="197.00" y2="343.32" stroke="#3a3a3a" stroke-width="0.9" />
<line x1="197.00" y1="359.93" x2="197.00" y2="373.74" stroke="#3a3a3a" stroke-width="0.9" />
<line x1="194.20" y1="339.21" x2="199.80" y2="339.21" stroke="#222" stroke-width="1.1" />
<line x1="194.20" y1="373.74" x2="199.80" y2="373.74" stroke="#222" stroke-width="1.1" />
<rect x="190.30" y="343.32" width="13.40" height="16.61" fill="#17622a" />
<line x1="190.30" y1="351.16" x2="203.70" y2="351.16" stroke="#141414" stroke-width="1.1" opacity="0.8"/>
<circle cx="197.00" cy="343.50" r="1.5" fill="none" stroke="#e8e8e8" stroke-width="0.7" opacity="0.85"/>
<circle cx="197.00" cy="351.44" r="1.5" fill="none" stroke="#e8e8e8" stroke-width="0.7" opacity="0.85"/>
<circle cx="197.00" cy="355.17" r="1.5" fill="none" stroke="#e8e8e8" stroke-width="0.7" opacity="0.85"/>
<circle cx="197.00" cy="360.30" r="1.5" fill="none" stroke="#e8e8e8" stroke-width="0.7" opacity="0.85"/>
<circle cx="197.00" cy="339.21" r="1.2" fill="#1a1a1a" />
<circle cx="197.00" cy="373.74" r="1.2" fill="#1a1a1a" />
<line x1="197.00" y1="416.30" x2="197.00" y2="418.50" stroke="#222" stroke-width="1" />
<text x="197.00" y="427.30" font-size="6.9" text-anchor="middle" fill="#333" >A</text>
<line x1="218.60" y1="343.78" x2="218.60" y2="352.28" stroke="#3a3a3a" stroke-width="0.9" />
<line x1="218.60" y1="391.75" x2="218.60" y2="404.35" stroke="#3a3a3a" stroke-width="0.9" />
<line x1="215.80" y1="343.78" x2="221.40" y2="343.78" stroke="#222" stroke-width="1.1" />
<line x1="215.80" y1="404.35" x2="221.40" y2="404.35" stroke="#222" stroke-width="1.1" />
<rect x="211.90" y="352.28" width="13.40" height="39.48" fill="#2b2a8c" />
<line x1="211.90" y1="361.42" x2="225.30" y2="361.42" stroke="#141414" stroke-width="1.1" opacity="0.8"/>
<circle cx="218.60" cy="355.64" r="1.5" fill="none" stroke="#e8e8e8" stroke-width="0.7" opacity="0.85"/>
<circle cx="218.60" cy="358.90" r="1.5" fill="none" stroke="#e8e8e8" stroke-width="0.7" opacity="0.85"/>
<circle cx="218.60" cy="364.04" r="1.5" fill="none" stroke="#e8e8e8" stroke-width="0.7" opacity="0.85"/>
<circle cx="218.60" cy="370.57" r="1.5" fill="none" stroke="#e8e8e8" stroke-width="0.7" opacity="0.85"/>
<line x1="218.60" y1="416.30" x2="218.60" y2="418.50" stroke="#222" stroke-width="1" />
<text x="218.60" y="427.30" font-size="6.9" text-anchor="middle" fill="#333" >B</text>
<line x1="240.00" y1="348.82" x2="240.00" y2="356.94" stroke="#3a3a3a" stroke-width="0.9" />
<line x1="240.00" y1="403.42" x2="240.00" y2="414.71" stroke="#3a3a3a" stroke-width="0.9" />
<line x1="237.20" y1="348.82" x2="242.80" y2="348.82" stroke="#222" stroke-width="1.1" />
<line x1="237.20" y1="414.71" x2="242.80" y2="414.71" stroke="#222" stroke-width="1.1" />
<rect x="233.30" y="356.94" width="13.40" height="46.48" fill="#d01818" />
<line x1="233.30" y1="371.87" x2="246.70" y2="371.87" stroke="#141414" stroke-width="1.1" opacity="0.8"/>
<circle cx="240.00" cy="362.64" r="1.5" fill="none" stroke="#e8e8e8" stroke-width="0.7" opacity="0.85"/>
<circle cx="240.00" cy="371.50" r="1.5" fill="none" stroke="#e8e8e8" stroke-width="0.7" opacity="0.85"/>
<circle cx="240.00" cy="392.50" r="1.5" fill="none" stroke="#e8e8e8" stroke-width="0.7" opacity="0.85"/>
<line x1="240.00" y1="416.30" x2="240.00" y2="418.50" stroke="#222" stroke-width="1" />
<text x="240.00" y="427.30" font-size="6.9" text-anchor="middle" fill="#333" >C</text>
<line x1="161.20" y1="321.20" x2="161.20" y2="416.90" stroke="#222" stroke-width="1.2" />
<line x1="160.60" y1="416.30" x2="252.50" y2="416.30" stroke="#222" stroke-width="1.2" />
<line x1="158.60" y1="416.30" x2="161.20" y2="416.30" stroke="#222" stroke-width="1" />
<text x="156.80" y="419.30" font-size="6.9" text-anchor="end" fill="#333" >0</text>
<line x1="158.60" y1="397.80" x2="161.20" y2="397.80" stroke="#222" stroke-width="1" />
<text x="156.80" y="400.80" font-size="6.9" text-anchor="end" fill="#333" >20</text>
<line x1="158.60" y1="379.10" x2="161.20" y2="379.10" stroke="#222" stroke-width="1" />
<text x="156.80" y="382.10" font-size="6.9" text-anchor="end" fill="#333" >40</text>
<line x1="158.60" y1="360.40" x2="161.20" y2="360.40" stroke="#222" stroke-width="1" />
<text x="156.80" y="363.40" font-size="6.9" text-anchor="end" fill="#333" >60</text>
<line x1="158.60" y1="342.00" x2="161.20" y2="342.00" stroke="#222" stroke-width="1" />
<text x="156.80" y="345.00" font-size="6.9" text-anchor="end" fill="#333" >80</text>
<line x1="158.60" y1="323.00" x2="161.20" y2="323.00" stroke="#222" stroke-width="1" />
<text x="156.80" y="326.00" font-size="6.9" text-anchor="end" fill="#333" >100</text>
<text x="139.20" y="369.30" font-size="8.4" text-anchor="middle" fill="#333" textLength="37.60" lengthAdjust="spacingAndGlyphs" transform="rotate(-90 139.20 369.30)" >% lin-CD34+</text>
<text x="208.20" y="315.00" font-size="8.4" text-anchor="middle" fill="#2a2a2a" textLength="18.00" lengthAdjust="spacingAndGlyphs" >MEP</text>
<text x="217.10" y="321.40" font-size="7.2" text-anchor="middle" fill="#222" >*</text>
<line x1="194.20" y1="321.50" x2="239.70" y2="321.50" stroke="#333" stroke-width="0.9" />
<line x1="194.20" y1="329.50" x2="217.30" y2="329.50" stroke="#333" stroke-width="0.9" />
<text x="205.60" y="327.90" font-size="6.4" text-anchor="middle" fill="#444" textLength="12.70" lengthAdjust="spacingAndGlyphs" >0.08</text>
<line x1="11.30" y1="358.60" x2="11.30" y2="339.50" stroke="#1a1a1a" stroke-width="1.1" />
<path d="M8.40 342.30 L11.30 335.50 L14.20 342.30 L11.30 340.40 Z" fill="#1a1a1a"/>
<text x="14.40" y="373.90" font-size="8.7" text-anchor="middle" fill="#333" textLength="20.00" lengthAdjust="spacingAndGlyphs" transform="rotate(-90 14.40 373.90)" >CD123</text>
<line x1="11.30" y1="435.30" x2="11.30" y2="404.00" stroke="#1a1a1a" stroke-width="1.1" />
<path d="M8.40 406.80 L11.30 400.00 L14.20 406.80 L11.30 404.90 Z" fill="#1a1a1a"/>
<line x1="10.75" y1="435.30" x2="38.50" y2="435.30" stroke="#1a1a1a" stroke-width="1.1" />
<path d="M35.70 432.40 L42.50 435.30 L35.70 438.20 L37.60 435.30 Z" fill="#1a1a1a"/>
<text x="69.40" y="437.40" font-size="8.6" text-anchor="middle" fill="#333" textLength="25.20" lengthAdjust="spacingAndGlyphs" >CD45RA</text>
<line x1="96.30" y1="435.30" x2="114.80" y2="435.30" stroke="#1a1a1a" stroke-width="1.1" />
<path d="M112.00 432.40 L118.80 435.30 L112.00 438.20 L113.90 435.30 Z" fill="#1a1a1a"/>
<path d="M45 400 C45 392 47 386 52 383 C57 380.5 63 381 68 380 C73 379 78 377 82 378 C86 379.5 87.5 384 87.5 390 L87 401 Z" fill="#fae6e4" stroke="#f0b8b4" stroke-width="0.6" filter="url(#blur05)"/>
<path d="M48 398 C48 392 51 388 56 386.5 C61 385 66 385.5 71 384 C76 383 80 382 83 384 C85.5 386 86 390 85.5 398 Z" fill="#f8dcd8" stroke="#eeb0ac" stroke-width="0.5" opacity="0.85" filter="url(#blur05)"/>
<path d="M52 398 C53 394 57 391 62 390.5 C67 390 72 389 77 388.5 C81 388.5 83 392 83 398 Z" fill="none" stroke="#eaa0a0" stroke-width="0.5" opacity="0.8"/>
<path d="M44.5 403.5 C44.5 400.3 46.5 399.4 51 399.4 L82.5 399.4 C86 399.4 87.2 401 87.2 403.3 C87.2 406.5 85 407.8 80 407.9 L50 408.2 C46 408.2 44.5 406.7 44.5 403.5 Z" fill="#f2b2ac" stroke="#e87a74" stroke-width="0.7" filter="url(#blur05)"/>
<path d="M47 402.8 C47.5 401.6 50 401.3 54 401.3 L80 401.3 C83 401.3 84.2 402.2 83.8 403.2 C83.3 404.2 80 404.5 72 404.6 L54 404.8 C49.5 404.8 46.6 404 47 402.8 Z" fill="#f9dcd8" opacity="0.9" filter="url(#blur05)"/>
<path d="M45.2 405.5 Q48 408.3 56 408 L80 407.6 Q85.5 407.2 86.6 404.5" fill="none" stroke="#d8322e" stroke-width="1.1" opacity="0.85" filter="url(#blur05)"/>
<circle cx="82.90" cy="366.50" r="3.9" fill="none" stroke="#e8a4a4" stroke-width="0.7" />
<circle cx="82.90" cy="366.50" r="1.5" fill="none" stroke="#e49a9a" stroke-width="0.6" />
<path d="M80.5 370.5 Q79.5 375 80.5 381 M85.5 370.5 Q86.5 377 85.5 383 M79 376 Q82 374 86 377" stroke="#efbcbc" stroke-width="0.6" fill="none"/>
<rect x="34.50" y="331.50" width="85.00" height="84.00" fill="none" stroke="#2a2a2a" stroke-width="1" />
<line x1="72.60" y1="331.20" x2="72.60" y2="415.60" stroke="#3a3a3a" stroke-width="0.8" />
<line x1="34.60" y1="395.30" x2="119.20" y2="395.30" stroke="#3a3a3a" stroke-width="0.9" />
<rect x="42.70" y="373.10" width="29.90" height="22.20" fill="none" stroke="#7a7a7a" stroke-width="0.7" />
<line x1="72.60" y1="373.10" x2="72.60" y2="395.30" stroke="#111" stroke-width="1.3" />
<rect x="72.60" y="373.10" width="31.60" height="21.60" fill="none" stroke="#666" stroke-width="0.7" />
<rect x="42.70" y="395.30" width="29.90" height="19.20" fill="none" stroke="#7a7a7a" stroke-width="0.7" />
<text x="42.70" y="372.10" font-size="6.5" fill="#333" textLength="14.20" lengthAdjust="spacingAndGlyphs" >CMP</text>
<text x="89.00" y="379.30" font-size="6.5" fill="#333" textLength="14.80" lengthAdjust="spacingAndGlyphs" >GMP</text>
<text x="43.30" y="412.20" font-size="6.5" fill="#333" textLength="13.40" lengthAdjust="spacingAndGlyphs" >MEP</text>
<line x1="32.00" y1="337.50" x2="34.60" y2="337.50" stroke="#222" stroke-width="0.9" />
<line x1="32.00" y1="350.60" x2="34.60" y2="350.60" stroke="#222" stroke-width="0.9" />
<line x1="32.00" y1="369.40" x2="34.60" y2="369.40" stroke="#222" stroke-width="0.9" />
<line x1="32.00" y1="386.25" x2="34.60" y2="386.25" stroke="#222" stroke-width="0.9" />
<line x1="32.00" y1="403.80" x2="34.60" y2="403.80" stroke="#222" stroke-width="0.9" />
<line x1="33.20" y1="346.66" x2="34.60" y2="346.66" stroke="#444" stroke-width="0.6" />
<line x1="33.20" y1="344.35" x2="34.60" y2="344.35" stroke="#444" stroke-width="0.6" />
<line x1="33.20" y1="342.71" x2="34.60" y2="342.71" stroke="#444" stroke-width="0.6" />
<line x1="33.20" y1="341.44" x2="34.60" y2="341.44" stroke="#444" stroke-width="0.6" />
<line x1="33.20" y1="340.41" x2="34.60" y2="340.41" stroke="#444" stroke-width="0.6" />
<line x1="33.20" y1="339.53" x2="34.60" y2="339.53" stroke="#444" stroke-width="0.6" />
<line x1="33.20" y1="338.77" x2="34.60" y2="338.77" stroke="#444" stroke-width="0.6" />
<line x1="33.20" y1="338.10" x2="34.60" y2="338.10" stroke="#444" stroke-width="0.6" />
<line x1="33.20" y1="363.74" x2="34.60" y2="363.74" stroke="#444" stroke-width="0.6" />
<line x1="33.20" y1="360.43" x2="34.60" y2="360.43" stroke="#444" stroke-width="0.6" />
<line x1="33.20" y1="358.08" x2="34.60" y2="358.08" stroke="#444" stroke-width="0.6" />
<line x1="33.20" y1="356.26" x2="34.60" y2="356.26" stroke="#444" stroke-width="0.6" />
<line x1="33.20" y1="354.77" x2="34.60" y2="354.77" stroke="#444" stroke-width="0.6" />
<line x1="33.20" y1="353.51" x2="34.60" y2="353.51" stroke="#444" stroke-width="0.6" />
<line x1="33.20" y1="352.42" x2="34.60" y2="352.42" stroke="#444" stroke-width="0.6" />
<line x1="33.20" y1="351.46" x2="34.60" y2="351.46" stroke="#444" stroke-width="0.6" />
<line x1="33.20" y1="381.18" x2="34.60" y2="381.18" stroke="#444" stroke-width="0.6" />
<line x1="33.20" y1="378.21" x2="34.60" y2="378.21" stroke="#444" stroke-width="0.6" />
<line x1="33.20" y1="376.11" x2="34.60" y2="376.11" stroke="#444" stroke-width="0.6" />
<line x1="33.20" y1="374.47" x2="34.60" y2="374.47" stroke="#444" stroke-width="0.6" />
<line x1="33.20" y1="373.14" x2="34.60" y2="373.14" stroke="#444" stroke-width="0.6" />
<line x1="33.20" y1="372.01" x2="34.60" y2="372.01" stroke="#444" stroke-width="0.6" />
<line x1="33.20" y1="371.03" x2="34.60" y2="371.03" stroke="#444" stroke-width="0.6" />
<line x1="33.20" y1="370.17" x2="34.60" y2="370.17" stroke="#444" stroke-width="0.6" />
<text x="20.20" y="339.80" font-size="6.2" fill="#333" >10<tspan dy="-2.4" font-size="4">4</tspan></text>
<text x="20.20" y="352.90" font-size="6.2" fill="#333" >10<tspan dy="-2.4" font-size="4">3</tspan></text>
<text x="20.20" y="371.70" font-size="6.2" fill="#333" >10<tspan dy="-2.4" font-size="4">2</tspan></text>
<text x="20.20" y="388.55" font-size="6.2" fill="#333" >10<tspan dy="-2.4" font-size="4">1</tspan></text>
<text x="29.00" y="406.10" font-size="6.2" text-anchor="end" fill="#333" >0</text>
<line x1="46.20" y1="415.60" x2="46.20" y2="418.20" stroke="#222" stroke-width="0.9" />
<line x1="64.40" y1="415.60" x2="64.40" y2="418.20" stroke="#222" stroke-width="0.9" />
<line x1="81.60" y1="415.60" x2="81.60" y2="418.20" stroke="#222" stroke-width="0.9" />
<line x1="99.50" y1="415.60" x2="99.50" y2="418.20" stroke="#222" stroke-width="0.9" />
<line x1="117.20" y1="415.60" x2="117.20" y2="418.20" stroke="#222" stroke-width="0.9" />
<line x1="69.58" y1="415.60" x2="69.58" y2="417.10" stroke="#444" stroke-width="0.6" />
<line x1="72.61" y1="415.60" x2="72.61" y2="417.10" stroke="#444" stroke-width="0.6" />
<line x1="74.76" y1="415.60" x2="74.76" y2="417.10" stroke="#444" stroke-width="0.6" />
<line x1="76.42" y1="415.60" x2="76.42" y2="417.10" stroke="#444" stroke-width="0.6" />
<line x1="77.78" y1="415.60" x2="77.78" y2="417.10" stroke="#444" stroke-width="0.6" />
<line x1="78.94" y1="415.60" x2="78.94" y2="417.10" stroke="#444" stroke-width="0.6" />
<line x1="79.93" y1="415.60" x2="79.93" y2="417.10" stroke="#444" stroke-width="0.6" />
<line x1="80.81" y1="415.60" x2="80.81" y2="417.10" stroke="#444" stroke-width="0.6" />
<line x1="86.99" y1="415.60" x2="86.99" y2="417.10" stroke="#444" stroke-width="0.6" />
<line x1="90.14" y1="415.60" x2="90.14" y2="417.10" stroke="#444" stroke-width="0.6" />
<line x1="92.38" y1="415.60" x2="92.38" y2="417.10" stroke="#444" stroke-width="0.6" />
<line x1="94.11" y1="415.60" x2="94.11" y2="417.10" stroke="#444" stroke-width="0.6" />
<line x1="95.53" y1="415.60" x2="95.53" y2="417.10" stroke="#444" stroke-width="0.6" />
<line x1="96.73" y1="415.60" x2="96.73" y2="417.10" stroke="#444" stroke-width="0.6" />
<line x1="97.77" y1="415.60" x2="97.77" y2="417.10" stroke="#444" stroke-width="0.6" />
<line x1="98.68" y1="415.60" x2="98.68" y2="417.10" stroke="#444" stroke-width="0.6" />
<line x1="104.83" y1="415.60" x2="104.83" y2="417.10" stroke="#444" stroke-width="0.6" />
<line x1="107.95" y1="415.60" x2="107.95" y2="417.10" stroke="#444" stroke-width="0.6" />
<line x1="110.16" y1="415.60" x2="110.16" y2="417.10" stroke="#444" stroke-width="0.6" />
<line x1="111.87" y1="415.60" x2="111.87" y2="417.10" stroke="#444" stroke-width="0.6" />
<line x1="113.27" y1="415.60" x2="113.27" y2="417.10" stroke="#444" stroke-width="0.6" />
<line x1="114.46" y1="415.60" x2="114.46" y2="417.10" stroke="#444" stroke-width="0.6" />
<line x1="115.48" y1="415.60" x2="115.48" y2="417.10" stroke="#444" stroke-width="0.6" />
<line x1="116.39" y1="415.60" x2="116.39" y2="417.10" stroke="#444" stroke-width="0.6" />
<text x="46.90" y="427.40" font-size="6.2" text-anchor="middle" fill="#333" >0</text>
<text x="60.80" y="427.40" font-size="6.2" fill="#333" >10<tspan dy="-2.4" font-size="4">1</tspan></text>
<text x="77.70" y="427.40" font-size="6.2" fill="#333" >10<tspan dy="-2.4" font-size="4">2</tspan></text>
<text x="95.40" y="427.40" font-size="6.2" fill="#333" >10<tspan dy="-2.4" font-size="4">3</tspan></text>
<text x="112.70" y="427.40" font-size="6.2" fill="#333" >10<tspan dy="-2.4" font-size="4">4</tspan></text>
<text x="278.70" y="287.00" font-size="11.4" fill="#111" font-weight="bold" textLength="8.70" lengthAdjust="spacingAndGlyphs" >D</text>
<text x="347.00" y="285.00" font-size="8.2" fill="#222" textLength="83.00" lengthAdjust="spacingAndGlyphs" >Erythroid Progenitors</text>
<path d="M278.30 293.70 Q278.30 289.30 286.00 289.30 L504.80 289.30 Q512.50 289.30 512.50 293.70" fill="none" stroke="#333" stroke-width="1.1"/>
<rect x="307.50" y="295.00" width="157.00" height="9.30" fill="#1a4b8b" />
<text x="331.90" y="303.10" font-size="7.5" fill="#ffffff" textLength="108.20" lengthAdjust="spacingAndGlyphs" >CD45<tspan dy="-2.2" font-size="4.6">+</tspan><tspan dy="2.2">Lin<tspan dy="-2.2" font-size="4.6">−</tspan><tspan dy="2.2">CD34<tspan dy="-2.2" font-size="4.6">+</tspan><tspan dy="2.2">CD71<tspan dy="-2.2" font-size="4.6">+</tspan><tspan dy="2.2">CD105<tspan dy="-2.2" font-size="4.6">+</tspan></tspan></tspan></tspan></tspan></text>
<line x1="434.60" y1="402.11" x2="434.60" y2="403.03" stroke="#3a3a3a" stroke-width="0.9" />
<line x1="434.60" y1="404.11" x2="434.60" y2="405.03" stroke="#3a3a3a" stroke-width="0.9" />
<line x1="431.80" y1="402.11" x2="437.40" y2="402.11" stroke="#222" stroke-width="1.1" />
<line x1="431.80" y1="405.03" x2="437.40" y2="405.03" stroke="#222" stroke-width="1.1" />
<rect x="427.90" y="403.03" width="13.40" height="1.08" fill="#555" />
<line x1="427.90" y1="403.65" x2="441.30" y2="403.65" stroke="#141414" stroke-width="1.1" opacity="0.8"/>
<circle cx="434.60" cy="404.72" r="1.2" fill="#1a1a1a" />
<circle cx="434.60" cy="402.57" r="1.2" fill="#1a1a1a" />
<line x1="434.60" y1="415.80" x2="434.60" y2="418.00" stroke="#222" stroke-width="1" />
<text x="434.60" y="428.00" font-size="6.9" text-anchor="middle" fill="#333" textLength="22.00" lengthAdjust="spacingAndGlyphs" >Control</text>
<line x1="456.00" y1="331.95" x2="456.00" y2="335.80" stroke="#3a3a3a" stroke-width="0.9" />
<line x1="456.00" y1="372.72" x2="456.00" y2="375.80" stroke="#3a3a3a" stroke-width="0.9" />
<line x1="453.20" y1="331.95" x2="458.80" y2="331.95" stroke="#222" stroke-width="1.1" />
<line x1="453.20" y1="375.80" x2="458.80" y2="375.80" stroke="#222" stroke-width="1.1" />
<rect x="449.30" y="335.80" width="13.40" height="36.92" fill="#17622a" />
<line x1="449.30" y1="366.57" x2="462.70" y2="366.57" stroke="#141414" stroke-width="1.1" opacity="0.8"/>
<circle cx="456.00" cy="335.80" r="1.5" fill="none" stroke="#e8e8e8" stroke-width="0.7" opacity="0.85"/>
<circle cx="456.00" cy="361.18" r="1.5" fill="none" stroke="#e8e8e8" stroke-width="0.7" opacity="0.85"/>
<circle cx="456.00" cy="372.72" r="1.5" fill="none" stroke="#e8e8e8" stroke-width="0.7" opacity="0.85"/>
<circle cx="456.00" cy="331.95" r="1.2" fill="#1a1a1a" />
<circle cx="456.00" cy="375.80" r="1.2" fill="#1a1a1a" />
<line x1="456.00" y1="415.80" x2="456.00" y2="418.00" stroke="#222" stroke-width="1" />
<text x="456.00" y="428.00" font-size="6.9" text-anchor="middle" fill="#333" >A</text>
<line x1="477.40" y1="366.26" x2="477.40" y2="367.18" stroke="#3a3a3a" stroke-width="0.9" />
<line x1="477.40" y1="391.49" x2="477.40" y2="395.49" stroke="#3a3a3a" stroke-width="0.9" />
<line x1="474.60" y1="366.26" x2="480.20" y2="366.26" stroke="#222" stroke-width="1.1" />
<line x1="474.60" y1="395.49" x2="480.20" y2="395.49" stroke="#222" stroke-width="1.1" />
<rect x="470.70" y="367.18" width="13.40" height="24.31" fill="#2b2a8c" />
<line x1="470.70" y1="374.88" x2="484.10" y2="374.88" stroke="#141414" stroke-width="1.1" opacity="0.8"/>
<circle cx="477.40" cy="367.34" r="1.5" fill="none" stroke="#e8e8e8" stroke-width="0.7" opacity="0.85"/>
<circle cx="477.40" cy="369.64" r="1.5" fill="none" stroke="#e8e8e8" stroke-width="0.7" opacity="0.85"/>
<circle cx="477.40" cy="381.49" r="1.5" fill="none" stroke="#e8e8e8" stroke-width="0.7" opacity="0.85"/>
<line x1="477.40" y1="415.80" x2="477.40" y2="418.00" stroke="#222" stroke-width="1" />
<text x="477.40" y="428.00" font-size="6.9" text-anchor="middle" fill="#333" >B</text>
<line x1="498.80" y1="373.65" x2="498.80" y2="377.03" stroke="#3a3a3a" stroke-width="0.9" />
<line x1="498.80" y1="404.11" x2="498.80" y2="411.18" stroke="#3a3a3a" stroke-width="0.9" />
<line x1="496.00" y1="373.65" x2="501.60" y2="373.65" stroke="#222" stroke-width="1.1" />
<line x1="496.00" y1="411.18" x2="501.60" y2="411.18" stroke="#222" stroke-width="1.1" />
<rect x="492.10" y="377.03" width="13.40" height="27.08" fill="#d01818" />
<line x1="492.10" y1="397.34" x2="505.50" y2="397.34" stroke="#141414" stroke-width="1.1" opacity="0.8"/>
<circle cx="498.80" cy="378.88" r="1.5" fill="none" stroke="#e8e8e8" stroke-width="0.7" opacity="0.85"/>
<circle cx="495.80" cy="397.34" r="1.5" fill="none" stroke="#e8e8e8" stroke-width="0.7" opacity="0.85"/>
<circle cx="501.80" cy="397.34" r="1.5" fill="none" stroke="#e8e8e8" stroke-width="0.7" opacity="0.85"/>
<line x1="498.80" y1="415.80" x2="498.80" y2="418.00" stroke="#222" stroke-width="1" />
<text x="498.80" y="428.00" font-size="6.9" text-anchor="middle" fill="#333" >C</text>
<line x1="420.40" y1="320.00" x2="420.40" y2="416.40" stroke="#222" stroke-width="1.2" />
<line x1="419.80" y1="415.80" x2="513.00" y2="415.80" stroke="#222" stroke-width="1.2" />
<line x1="417.80" y1="415.80" x2="420.40" y2="415.80" stroke="#222" stroke-width="1" />
<text x="416.00" y="418.80" font-size="6.9" text-anchor="end" fill="#333" >0</text>
<line x1="417.80" y1="385.10" x2="420.40" y2="385.10" stroke="#222" stroke-width="1" />
<text x="416.00" y="388.10" font-size="6.9" text-anchor="end" fill="#333" >20</text>
<line x1="417.80" y1="354.20" x2="420.40" y2="354.20" stroke="#222" stroke-width="1" />
<text x="416.00" y="357.20" font-size="6.9" text-anchor="end" fill="#333" >40</text>
<line x1="417.80" y1="323.50" x2="420.40" y2="323.50" stroke="#222" stroke-width="1" />
<text x="416.00" y="326.50" font-size="6.9" text-anchor="end" fill="#333" >60</text>
<circle cx="431.60" cy="403.60" r="0.9" fill="#222" />
<circle cx="433.60" cy="403.60" r="0.9" fill="#222" />
<circle cx="435.60" cy="403.60" r="0.9" fill="#222" />
<circle cx="437.60" cy="403.60" r="0.9" fill="#222" />
<text x="401.00" y="369.30" font-size="8.4" text-anchor="middle" fill="#333" textLength="37.20" lengthAdjust="spacingAndGlyphs" transform="rotate(-90 401.00 369.30)" >% lin-CD34+</text>
<text x="467.30" y="315.00" font-size="8.2" text-anchor="middle" fill="#222" textLength="15.50" lengthAdjust="spacingAndGlyphs" >ERP</text>
<text x="476.20" y="322.20" font-size="7.2" text-anchor="middle" fill="#222" >*</text>
<line x1="453.50" y1="321.50" x2="499.30" y2="321.50" stroke="#333" stroke-width="0.9" />
<line x1="453.50" y1="329.50" x2="473.20" y2="329.50" stroke="#333" stroke-width="0.9" />
<text x="462.90" y="327.70" font-size="6.4" text-anchor="middle" fill="#444" textLength="12.00" lengthAdjust="spacingAndGlyphs" >0.11</text>
<line x1="278.20" y1="358.60" x2="278.20" y2="342.90" stroke="#1a1a1a" stroke-width="1.1" />
<path d="M275.30 345.70 L278.20 338.90 L281.10 345.70 L278.20 343.80 Z" fill="#1a1a1a"/>
<text x="280.70" y="374.20" font-size="8.2" text-anchor="middle" fill="#333" textLength="21.00" lengthAdjust="spacingAndGlyphs" transform="rotate(-90 280.70 374.20)" >CD105</text>
<line x1="278.10" y1="437.50" x2="278.10" y2="408.40" stroke="#1a1a1a" stroke-width="1.1" />
<path d="M275.20 411.20 L278.10 404.40 L281.00 411.20 L278.10 409.30 Z" fill="#1a1a1a"/>
<line x1="277.55" y1="437.50" x2="304.00" y2="437.50" stroke="#1a1a1a" stroke-width="1.1" />
<path d="M301.20 434.60 L308.00 437.50 L301.20 440.40 L303.10 437.50 Z" fill="#1a1a1a"/>
<text x="335.80" y="440.80" font-size="8.8" text-anchor="middle" fill="#333" textLength="15.90" lengthAdjust="spacingAndGlyphs" >CD71</text>
<line x1="357.70" y1="437.50" x2="377.20" y2="437.50" stroke="#1a1a1a" stroke-width="1.1" />
<path d="M374.40 434.60 L381.20 437.50 L374.40 440.40 L376.30 437.50 Z" fill="#1a1a1a"/>
<path d="M316.3 390 C316.3 383 320 379 327 378.3 C333 377.8 337 375.5 340.5 371 C343.5 366.5 347 362.4 350.2 362.2 C353.6 362.1 355 365 354.9 370 C354.7 378 354.2 388 352.3 394 C350.8 398.5 346 399.6 338 399.6 L325 399.6 C319 399.6 316.3 396 316.3 390 Z" fill="url(#dblob)" stroke="#e27a70" stroke-width="0.7" filter="url(#blur05)"/>
<path d="M316.3 390 C316.3 383 320 379 327 378.3 C333 377.8 337 375.5 340.5 371 C343.5 366.5 347 362.4 350.2 362.2 C353.6 362.1 355 365 354.9 370 C354.7 378 354.2 388 352.3 394 C350.8 398.5 346 399.6 338 399.6 L325 399.6 C319 399.6 316.3 396 316.3 390 Z" transform="translate(60.84 69.30) scale(0.82)" fill="none" stroke="#f9d6d2" stroke-width="0.73" opacity="0.8"/>
<path d="M316.3 390 C316.3 383 320 379 327 378.3 C333 377.8 337 375.5 340.5 371 C343.5 366.5 347 362.4 350.2 362.2 C353.6 362.1 355 365 354.9 370 C354.7 378 354.2 388 352.3 394 C350.8 398.5 346 399.6 338 399.6 L325 399.6 C319 399.6 316.3 396 316.3 390 Z" transform="translate(121.68 138.60) scale(0.64)" fill="none" stroke="#f9d6d2" stroke-width="0.94" opacity="0.8"/>
<path d="M319 382 C316.5 386 316.5 393 319.5 397" fill="none" stroke="#e2504a" stroke-width="1.2" opacity="0.55" filter="url(#blur05)"/>
<path d="M324.5 388.8 C327 386.5 331.5 386.8 333.5 387.6 C335.5 386.4 338.5 385.4 339.6 385.8 C338.6 388.2 335 389.8 331 389.9 C328 390.1 325.5 389.9 324.5 388.8 Z" fill="#ffffff" opacity="0.95" filter="url(#blur05)"/>
<rect x="338.50" y="380.50" width="21.00" height="20.00" fill="none" stroke="#8a8f9a" stroke-width="0.9" />
<rect x="338.50" y="356.50" width="21.00" height="24.00" fill="none" stroke="#c03a48" stroke-width="1.0" />
<rect x="302.50" y="333.50" width="82.00" height="82.50" fill="none" stroke="#2a2a2a" stroke-width="1" />
<rect x="305.60" y="335.80" width="6.60" height="4.80" fill="none" stroke="#9aa0ad" stroke-width="0.8" />
<rect x="305.60" y="345.20" width="6.60" height="5.20" fill="none" stroke="#d05a60" stroke-width="0.9" />
<text x="315.20" y="339.60" font-size="6.3" fill="#333" textLength="36.80" lengthAdjust="spacingAndGlyphs" >CD34+CD71+</text>
<text x="315.20" y="349.10" font-size="6.3" fill="#333" textLength="60.80" lengthAdjust="spacingAndGlyphs" >CD34+CD71+CD105+</text>
<line x1="300.00" y1="353.75" x2="302.60" y2="353.75" stroke="#222" stroke-width="0.9" />
<line x1="300.00" y1="379.60" x2="302.60" y2="379.60" stroke="#222" stroke-width="0.9" />
<line x1="300.00" y1="395.00" x2="302.60" y2="395.00" stroke="#222" stroke-width="0.9" />
<line x1="300.00" y1="409.40" x2="302.60" y2="409.40" stroke="#222" stroke-width="0.9" />
<line x1="301.20" y1="371.82" x2="302.60" y2="371.82" stroke="#444" stroke-width="0.6" />
<line x1="301.20" y1="367.27" x2="302.60" y2="367.27" stroke="#444" stroke-width="0.6" />
<line x1="301.20" y1="364.04" x2="302.60" y2="364.04" stroke="#444" stroke-width="0.6" />
<line x1="301.20" y1="361.53" x2="302.60" y2="361.53" stroke="#444" stroke-width="0.6" />
<line x1="301.20" y1="359.48" x2="302.60" y2="359.48" stroke="#444" stroke-width="0.6" />
<line x1="301.20" y1="357.75" x2="302.60" y2="357.75" stroke="#444" stroke-width="0.6" />
<line x1="301.20" y1="356.26" x2="302.60" y2="356.26" stroke="#444" stroke-width="0.6" />
<line x1="301.20" y1="354.93" x2="302.60" y2="354.93" stroke="#444" stroke-width="0.6" />
<line x1="301.20" y1="345.97" x2="302.60" y2="345.97" stroke="#444" stroke-width="0.6" />
<line x1="301.20" y1="341.42" x2="302.60" y2="341.42" stroke="#444" stroke-width="0.6" />
<line x1="301.20" y1="338.19" x2="302.60" y2="338.19" stroke="#444" stroke-width="0.6" />
<line x1="301.20" y1="335.68" x2="302.60" y2="335.68" stroke="#444" stroke-width="0.6" />
<text x="287.20" y="356.00" font-size="6.2" fill="#333" >10<tspan dy="-2.4" font-size="4">4</tspan></text>
<text x="287.20" y="381.90" font-size="6.2" fill="#333" >10<tspan dy="-2.4" font-size="4">3</tspan></text>
<text x="296.50" y="397.30" font-size="6.2" text-anchor="end" fill="#333" >0</text>
<text x="287.20" y="411.70" font-size="6.2" fill="#333" >10<tspan dy="-2.4" font-size="4">3</tspan></text>
<line x1="308.50" y1="416.00" x2="308.50" y2="418.60" stroke="#222" stroke-width="0.9" />
<line x1="322.10" y1="416.00" x2="322.10" y2="418.60" stroke="#222" stroke-width="0.9" />
<line x1="336.00" y1="416.00" x2="336.00" y2="418.60" stroke="#222" stroke-width="0.9" />
<line x1="357.00" y1="416.00" x2="357.00" y2="418.60" stroke="#222" stroke-width="0.9" />
<line x1="376.50" y1="416.00" x2="376.50" y2="418.60" stroke="#222" stroke-width="0.9" />
<line x1="342.32" y1="416.00" x2="342.32" y2="417.50" stroke="#444" stroke-width="0.6" />
<line x1="346.02" y1="416.00" x2="346.02" y2="417.50" stroke="#444" stroke-width="0.6" />
<line x1="348.64" y1="416.00" x2="348.64" y2="417.50" stroke="#444" stroke-width="0.6" />
<line x1="350.68" y1="416.00" x2="350.68" y2="417.50" stroke="#444" stroke-width="0.6" />
<line x1="352.34" y1="416.00" x2="352.34" y2="417.50" stroke="#444" stroke-width="0.6" />
<line x1="353.75" y1="416.00" x2="353.75" y2="417.50" stroke="#444" stroke-width="0.6" />
<line x1="354.96" y1="416.00" x2="354.96" y2="417.50" stroke="#444" stroke-width="0.6" />
<line x1="356.04" y1="416.00" x2="356.04" y2="417.50" stroke="#444" stroke-width="0.6" />
<line x1="362.87" y1="416.00" x2="362.87" y2="417.50" stroke="#444" stroke-width="0.6" />
<line x1="366.30" y1="416.00" x2="366.30" y2="417.50" stroke="#444" stroke-width="0.6" />
<line x1="368.74" y1="416.00" x2="368.74" y2="417.50" stroke="#444" stroke-width="0.6" />
<line x1="370.63" y1="416.00" x2="370.63" y2="417.50" stroke="#444" stroke-width="0.6" />
<line x1="372.17" y1="416.00" x2="372.17" y2="417.50" stroke="#444" stroke-width="0.6" />
<line x1="373.48" y1="416.00" x2="373.48" y2="417.50" stroke="#444" stroke-width="0.6" />
<line x1="374.61" y1="416.00" x2="374.61" y2="417.50" stroke="#444" stroke-width="0.6" />
<line x1="375.61" y1="416.00" x2="375.61" y2="417.50" stroke="#444" stroke-width="0.6" />
<text x="302.90" y="427.70" font-size="6.2" fill="#333" >−10<tspan dy="-2.4" font-size="4">3</tspan></text>
<text x="322.10" y="427.70" font-size="6.2" text-anchor="middle" fill="#333" >0</text>
<text x="332.70" y="427.70" font-size="6.2" fill="#333" >10<tspan dy="-2.4" font-size="4">3</tspan></text>
<text x="352.90" y="427.70" font-size="6.2" fill="#333" >10<tspan dy="-2.4" font-size="4">4</tspan></text>
<text x="372.70" y="427.70" font-size="6.2" fill="#333" >10<tspan dy="-2.4" font-size="4">5</tspan></text>
<text x="7.00" y="468.20" font-size="11.4" fill="#111" font-weight="bold" textLength="6.20" lengthAdjust="spacingAndGlyphs" >E</text>
<text x="234.50" y="481.30" font-size="8.2" fill="#222" textLength="61.70" lengthAdjust="spacingAndGlyphs" >CyTOF NK cells</text>
<path d="M15.00 490.66 Q15.00 486.50 22.28 486.50 L508.72 486.50 Q516.00 486.50 516.00 490.66" fill="none" stroke="#333" stroke-width="1.1"/>
<text x="202.60" y="501.10" font-size="8.6" text-anchor="middle" fill="#222" textLength="34.20" lengthAdjust="spacingAndGlyphs" >Total NK</text>
<line x1="170.70" y1="584.64" x2="170.70" y2="588.15" stroke="#3a3a3a" stroke-width="0.9" />
<line x1="170.70" y1="594.98" x2="170.70" y2="597.94" stroke="#3a3a3a" stroke-width="0.9" />
<line x1="167.90" y1="584.64" x2="173.50" y2="584.64" stroke="#222" stroke-width="1.1" />
<line x1="167.90" y1="597.94" x2="173.50" y2="597.94" stroke="#222" stroke-width="1.1" />
<rect x="164.00" y="588.15" width="13.40" height="6.83" fill="#3a6166" />
<line x1="164.00" y1="591.66" x2="177.40" y2="591.66" stroke="#141414" stroke-width="1.1" opacity="0.8"/>
<circle cx="170.70" cy="584.64" r="1.9" fill="#ffffff" stroke="#dddddd" stroke-width="0.4" />
<circle cx="170.70" cy="591.66" r="1.9" fill="#ffffff" stroke="#dddddd" stroke-width="0.4" />
<circle cx="170.70" cy="597.94" r="1.9" fill="#ffffff" stroke="#dddddd" stroke-width="0.4" />
<line x1="170.70" y1="602.00" x2="170.70" y2="604.20" stroke="#222" stroke-width="1" />
<text x="170.70" y="613.50" font-size="6.9" text-anchor="middle" fill="#333" textLength="21.50" lengthAdjust="spacingAndGlyphs" >Control</text>
<line x1="192.00" y1="527.38" x2="192.00" y2="548.07" stroke="#3a3a3a" stroke-width="0.9" />
<line x1="192.00" y1="578.91" x2="192.00" y2="583.53" stroke="#3a3a3a" stroke-width="0.9" />
<line x1="189.20" y1="527.38" x2="194.80" y2="527.38" stroke="#222" stroke-width="1.1" />
<line x1="189.20" y1="583.53" x2="194.80" y2="583.53" stroke="#222" stroke-width="1.1" />
<rect x="185.30" y="548.07" width="13.40" height="30.84" fill="#17622a" />
<line x1="185.30" y1="567.65" x2="198.70" y2="567.65" stroke="#141414" stroke-width="1.1" opacity="0.8"/>
<circle cx="192.00" cy="527.38" r="1.9" fill="#ffffff" stroke="#dddddd" stroke-width="0.4" />
<circle cx="192.00" cy="545.85" r="1.9" fill="#ffffff" stroke="#dddddd" stroke-width="0.4" />
<circle cx="192.00" cy="560.26" r="1.9" fill="#ffffff" stroke="#dddddd" stroke-width="0.4" />
<circle cx="192.00" cy="575.03" r="1.9" fill="#ffffff" stroke="#dddddd" stroke-width="0.4" />
<circle cx="192.00" cy="583.53" r="1.9" fill="#ffffff" stroke="#dddddd" stroke-width="0.4" />
<line x1="192.00" y1="602.00" x2="192.00" y2="604.20" stroke="#222" stroke-width="1" />
<text x="192.00" y="613.50" font-size="6.9" text-anchor="middle" fill="#333" >A</text>
<line x1="213.40" y1="562.10" x2="213.40" y2="565.43" stroke="#3a3a3a" stroke-width="0.9" />
<line x1="213.40" y1="596.64" x2="213.40" y2="602.00" stroke="#3a3a3a" stroke-width="0.9" />
<line x1="210.60" y1="562.10" x2="216.20" y2="562.10" stroke="#222" stroke-width="1.1" />
<line x1="210.60" y1="602.00" x2="216.20" y2="602.00" stroke="#222" stroke-width="1.1" />
<rect x="206.70" y="565.43" width="13.40" height="31.21" fill="#2b2a8c" />
<line x1="206.70" y1="593.50" x2="220.10" y2="593.50" stroke="#141414" stroke-width="1.1" opacity="0.8"/>
<circle cx="213.40" cy="562.10" r="1.9" fill="#ffffff" stroke="#dddddd" stroke-width="0.4" />
<circle cx="213.40" cy="570.97" r="1.9" fill="#ffffff" stroke="#dddddd" stroke-width="0.4" />
<circle cx="213.40" cy="587.96" r="1.9" fill="#ffffff" stroke="#dddddd" stroke-width="0.4" />
<circle cx="210.40" cy="597.20" r="1.9" fill="#ffffff" stroke="#dddddd" stroke-width="0.4" />
<circle cx="213.40" cy="601.26" r="1.9" fill="#ffffff" stroke="#dddddd" stroke-width="0.4" />
<circle cx="215.90" cy="597.57" r="1.9" fill="#ffffff" stroke="#dddddd" stroke-width="0.4" />
<line x1="213.40" y1="602.00" x2="213.40" y2="604.20" stroke="#222" stroke-width="1" />
<text x="213.40" y="613.50" font-size="6.9" text-anchor="middle" fill="#333" >B</text>
<line x1="234.90" y1="584.64" x2="234.90" y2="586.49" stroke="#3a3a3a" stroke-width="0.9" />
<line x1="234.90" y1="593.87" x2="234.90" y2="594.61" stroke="#3a3a3a" stroke-width="0.9" />
<line x1="232.10" y1="584.64" x2="237.70" y2="584.64" stroke="#222" stroke-width="1.1" />
<line x1="232.10" y1="594.61" x2="237.70" y2="594.61" stroke="#222" stroke-width="1.1" />
<rect x="228.20" y="586.49" width="13.40" height="7.39" fill="#d01818" />
<line x1="228.20" y1="590.55" x2="241.60" y2="590.55" stroke="#141414" stroke-width="1.1" opacity="0.8"/>
<circle cx="231.90" cy="585.38" r="1.9" fill="#ffffff" stroke="#dddddd" stroke-width="0.4" />
<circle cx="234.90" cy="590.92" r="1.9" fill="#ffffff" stroke="#dddddd" stroke-width="0.4" />
<circle cx="237.90" cy="585.38" r="1.9" fill="#ffffff" stroke="#dddddd" stroke-width="0.4" />
<line x1="234.90" y1="602.00" x2="234.90" y2="604.20" stroke="#222" stroke-width="1" />
<text x="234.90" y="613.50" font-size="6.9" text-anchor="middle" fill="#333" >C</text>
<line x1="156.20" y1="506.20" x2="156.20" y2="602.60" stroke="#222" stroke-width="1.2" />
<line x1="155.60" y1="602.00" x2="246.70" y2="602.00" stroke="#222" stroke-width="1.2" />
<line x1="153.60" y1="602.00" x2="156.20" y2="602.00" stroke="#222" stroke-width="1" />
<text x="151.80" y="605.00" font-size="6.9" text-anchor="end" fill="#333" >0</text>
<line x1="153.60" y1="583.50" x2="156.20" y2="583.50" stroke="#222" stroke-width="1" />
<text x="151.80" y="586.50" font-size="6.9" text-anchor="end" fill="#333" >5</text>
<line x1="153.60" y1="565.00" x2="156.20" y2="565.00" stroke="#222" stroke-width="1" />
<text x="151.80" y="568.00" font-size="6.9" text-anchor="end" fill="#333" >10</text>
<line x1="153.60" y1="546.60" x2="156.20" y2="546.60" stroke="#222" stroke-width="1" />
<text x="151.80" y="549.60" font-size="6.9" text-anchor="end" fill="#333" >15</text>
<line x1="153.60" y1="528.10" x2="156.20" y2="528.10" stroke="#222" stroke-width="1" />
<text x="151.80" y="531.10" font-size="6.9" text-anchor="end" fill="#333" >20</text>
<line x1="153.60" y1="509.60" x2="156.20" y2="509.60" stroke="#222" stroke-width="1" />
<text x="151.80" y="512.60" font-size="6.9" text-anchor="end" fill="#333" >25</text>
<text x="137.70" y="554.50" font-size="8.3" text-anchor="middle" fill="#333" textLength="26.70" lengthAdjust="spacingAndGlyphs" transform="rotate(-90 137.70 554.50)" >% CD34-</text>
<line x1="192.00" y1="524.20" x2="213.40" y2="524.20" stroke="#333" stroke-width="0.9" />
<line x1="192.00" y1="516.60" x2="235.80" y2="516.60" stroke="#333" stroke-width="0.9" />
<text x="202.40" y="523.70" font-size="7.2" text-anchor="middle" fill="#222" >*</text>
<text x="212.70" y="516.30" font-size="7.2" text-anchor="middle" fill="#222" >**</text>
<text x="297.40" y="501.10" font-size="8.6" fill="#222" textLength="21.70" lengthAdjust="spacingAndGlyphs" >CD56</text>
<text x="320.00" y="497.70" font-size="6.8" fill="#333" textLength="11.00" lengthAdjust="spacingAndGlyphs" >dim</text>
<text x="333.50" y="501.10" font-size="8.6" fill="#222" textLength="21.20" lengthAdjust="spacingAndGlyphs" >CD16</text>
<text x="356.00" y="497.70" font-size="6.8" fill="#333" textLength="17.30" lengthAdjust="spacingAndGlyphs" >bright</text>
<text x="335.60" y="517.80" font-size="6.4" text-anchor="middle" fill="#222" font-style="italic" textLength="22.90" lengthAdjust="spacingAndGlyphs" >HLA-DR</text>
<line x1="311.80" y1="570.47" x2="311.80" y2="573.16" stroke="#3a3a3a" stroke-width="0.9" />
<line x1="311.80" y1="600.79" x2="311.80" y2="601.60" stroke="#3a3a3a" stroke-width="0.9" />
<line x1="309.00" y1="570.47" x2="314.60" y2="570.47" stroke="#222" stroke-width="1.1" />
<line x1="309.00" y1="601.60" x2="314.60" y2="601.60" stroke="#222" stroke-width="1.1" />
<rect x="304.30" y="573.16" width="15.00" height="27.63" fill="#3a6166" />
<line x1="304.30" y1="597.30" x2="319.30" y2="597.30" stroke="#141414" stroke-width="1.1" opacity="0.8"/>
<line x1="311.80" y1="602.40" x2="311.80" y2="604.60" stroke="#222" stroke-width="1" />
<text x="311.80" y="613.80" font-size="6.9" text-anchor="middle" fill="#333" textLength="21.80" lengthAdjust="spacingAndGlyphs" >Control</text>
<line x1="335.40" y1="532.64" x2="335.40" y2="545.25" stroke="#3a3a3a" stroke-width="0.9" />
<line x1="335.40" y1="580.40" x2="335.40" y2="597.84" stroke="#3a3a3a" stroke-width="0.9" />
<line x1="332.60" y1="532.64" x2="338.20" y2="532.64" stroke="#222" stroke-width="1.1" />
<line x1="332.60" y1="597.84" x2="338.20" y2="597.84" stroke="#222" stroke-width="1.1" />
<rect x="327.90" y="545.25" width="15.00" height="35.15" fill="#f07b22" />
<line x1="327.90" y1="566.72" x2="342.90" y2="566.72" stroke="#141414" stroke-width="1.1" opacity="0.8"/>
<line x1="335.40" y1="602.40" x2="335.40" y2="604.60" stroke="#222" stroke-width="1" />
<text x="335.40" y="613.80" font-size="6.9" text-anchor="middle" fill="#333" textLength="8.30" lengthAdjust="spacingAndGlyphs" >AB</text>
<line x1="359.10" y1="569.67" x2="359.10" y2="572.35" stroke="#3a3a3a" stroke-width="0.9" />
<line x1="359.10" y1="591.67" x2="359.10" y2="598.38" stroke="#3a3a3a" stroke-width="0.9" />
<line x1="356.30" y1="569.67" x2="361.90" y2="569.67" stroke="#222" stroke-width="1.1" />
<line x1="356.30" y1="598.38" x2="361.90" y2="598.38" stroke="#222" stroke-width="1.1" />
<rect x="351.60" y="572.35" width="15.00" height="19.32" fill="#d01818" />
<line x1="351.60" y1="584.16" x2="366.60" y2="584.16" stroke="#141414" stroke-width="1.1" opacity="0.8"/>
<line x1="359.10" y1="602.40" x2="359.10" y2="604.60" stroke="#222" stroke-width="1" />
<text x="359.10" y="613.80" font-size="6.9" text-anchor="middle" fill="#333" >C</text>
<line x1="295.00" y1="520.00" x2="295.00" y2="603.00" stroke="#222" stroke-width="1.2" />
<line x1="294.40" y1="602.40" x2="374.60" y2="602.40" stroke="#222" stroke-width="1.2" />
<line x1="292.40" y1="602.40" x2="295.00" y2="602.40" stroke="#222" stroke-width="1" />
<text x="290.60" y="605.40" font-size="6.9" text-anchor="end" fill="#333" >0</text>
<line x1="292.40" y1="575.40" x2="295.00" y2="575.40" stroke="#222" stroke-width="1" />
<text x="290.60" y="578.40" font-size="6.9" text-anchor="end" fill="#333" >10</text>
<line x1="292.40" y1="548.40" x2="295.00" y2="548.40" stroke="#222" stroke-width="1" />
<text x="290.60" y="551.40" font-size="6.9" text-anchor="end" fill="#333" >20</text>
<line x1="292.40" y1="521.90" x2="295.00" y2="521.90" stroke="#222" stroke-width="1" />
<text x="290.60" y="524.90" font-size="6.9" text-anchor="end" fill="#333" >30</text>
<circle cx="335.40" cy="532.64" r="1.0" fill="none" stroke="#333" stroke-width="0.55" />
<circle cx="333.60" cy="535.33" r="1.0" fill="none" stroke="#333" stroke-width="0.55" />
<circle cx="337.20" cy="538.01" r="1.0" fill="none" stroke="#333" stroke-width="0.55" />
<circle cx="335.40" cy="543.37" r="1.0" fill="none" stroke="#333" stroke-width="0.55" />
<circle cx="333.60" cy="551.42" r="1.0" fill="none" stroke="#333" stroke-width="0.55" />
<circle cx="337.20" cy="551.42" r="1.0" fill="none" stroke="#333" stroke-width="0.55" />
<circle cx="335.40" cy="556.79" r="1.0" fill="none" stroke="#333" stroke-width="0.55" />
<circle cx="335.40" cy="559.47" r="1.0" fill="none" stroke="#333" stroke-width="0.55" />
<circle cx="333.60" cy="564.84" r="1.0" fill="none" stroke="#333" stroke-width="0.55" />
<circle cx="337.20" cy="567.52" r="1.0" fill="none" stroke="#333" stroke-width="0.55" />
<circle cx="335.40" cy="575.57" r="1.0" fill="none" stroke="#333" stroke-width="0.55" />
<circle cx="333.60" cy="580.94" r="1.0" fill="none" stroke="#333" stroke-width="0.55" />
<circle cx="337.20" cy="588.99" r="1.0" fill="none" stroke="#333" stroke-width="0.55" />
<circle cx="333.60" cy="590.33" r="1.0" fill="none" stroke="#333" stroke-width="0.55" />
<circle cx="335.40" cy="597.84" r="1.0" fill="none" stroke="#333" stroke-width="0.55" />
<circle cx="311.80" cy="595.69" r="0.9" fill="none" stroke="#444" stroke-width="0.5" />
<circle cx="359.10" cy="586.30" r="0.9" fill="none" stroke="#444" stroke-width="0.5" />
<text x="278.00" y="561.00" font-size="8.3" text-anchor="middle" fill="#333" textLength="62.50" lengthAdjust="spacingAndGlyphs" transform="rotate(-90 278.00 561.00)" >Mean intensity (A.U)</text>
<line x1="312.10" y1="529.30" x2="335.30" y2="529.30" stroke="#333" stroke-width="0.9" />
<line x1="336.60" y1="529.30" x2="359.90" y2="529.30" stroke="#333" stroke-width="0.9" />
<text x="323.60" y="529.50" font-size="7.2" text-anchor="middle" fill="#222" >**</text>
<text x="348.20" y="529.50" font-size="7.2" text-anchor="middle" fill="#222" >*</text>
<text x="422.60" y="501.10" font-size="8.6" fill="#222" textLength="21.70" lengthAdjust="spacingAndGlyphs" >CD56</text>
<text x="445.20" y="497.70" font-size="6.8" fill="#333" textLength="11.00" lengthAdjust="spacingAndGlyphs" >dim</text>
<text x="458.70" y="501.10" font-size="8.6" fill="#222" textLength="21.20" lengthAdjust="spacingAndGlyphs" >CD16</text>
<text x="481.20" y="497.70" font-size="6.8" fill="#333" textLength="17.30" lengthAdjust="spacingAndGlyphs" >bright</text>
<text x="460.20" y="517.80" font-size="6.4" text-anchor="middle" fill="#222" font-style="italic" textLength="12.60" lengthAdjust="spacingAndGlyphs" >CD7</text>
<line x1="437.00" y1="544.09" x2="437.00" y2="547.06" stroke="#3a3a3a" stroke-width="0.9" />
<line x1="437.00" y1="564.71" x2="437.00" y2="575.29" stroke="#3a3a3a" stroke-width="0.9" />
<line x1="434.20" y1="544.09" x2="439.80" y2="544.09" stroke="#222" stroke-width="1.1" />
<line x1="434.20" y1="575.29" x2="439.80" y2="575.29" stroke="#222" stroke-width="1.1" />
<rect x="429.35" y="547.06" width="15.30" height="17.64" fill="#3a6166" />
<line x1="429.35" y1="554.68" x2="444.65" y2="554.68" stroke="#141414" stroke-width="1.1" opacity="0.8"/>
<circle cx="437.00" cy="544.66" r="1.5" fill="none" stroke="#e8e8e8" stroke-width="0.7" opacity="0.85"/>
<circle cx="437.00" cy="550.27" r="1.5" fill="none" stroke="#e8e8e8" stroke-width="0.7" opacity="0.85"/>
<circle cx="437.00" cy="557.49" r="1.5" fill="none" stroke="#e8e8e8" stroke-width="0.7" opacity="0.85"/>
<circle cx="437.00" cy="562.30" r="1.5" fill="none" stroke="#e8e8e8" stroke-width="0.7" opacity="0.85"/>
<line x1="437.00" y1="602.40" x2="437.00" y2="604.60" stroke="#222" stroke-width="1" />
<text x="437.00" y="613.60" font-size="6.9" text-anchor="middle" fill="#333" textLength="22.10" lengthAdjust="spacingAndGlyphs" >Control</text>
<line x1="460.10" y1="563.34" x2="460.10" y2="568.88" stroke="#3a3a3a" stroke-width="0.9" />
<line x1="460.10" y1="584.76" x2="460.10" y2="588.12" stroke="#3a3a3a" stroke-width="0.9" />
<line x1="457.30" y1="563.34" x2="462.90" y2="563.34" stroke="#222" stroke-width="1.1" />
<line x1="457.30" y1="588.12" x2="462.90" y2="588.12" stroke="#222" stroke-width="1.1" />
<rect x="452.45" y="568.88" width="15.30" height="15.88" fill="#f07b22" />
<line x1="452.45" y1="578.98" x2="467.75" y2="578.98" stroke="#141414" stroke-width="1.1" opacity="0.8"/>
<line x1="460.10" y1="602.40" x2="460.10" y2="604.60" stroke="#222" stroke-width="1" />
<text x="460.10" y="613.60" font-size="6.9" text-anchor="middle" fill="#333" textLength="8.50" lengthAdjust="spacingAndGlyphs" >AB</text>
<line x1="484.20" y1="540.25" x2="484.20" y2="548.67" stroke="#3a3a3a" stroke-width="0.9" />
<line x1="484.20" y1="574.73" x2="484.20" y2="578.98" stroke="#3a3a3a" stroke-width="0.9" />
<line x1="481.40" y1="540.25" x2="487.00" y2="540.25" stroke="#222" stroke-width="1.1" />
<line x1="481.40" y1="578.98" x2="487.00" y2="578.98" stroke="#222" stroke-width="1.1" />
<rect x="476.55" y="548.67" width="15.30" height="26.07" fill="#d01818" />
<line x1="476.55" y1="555.08" x2="491.85" y2="555.08" stroke="#141414" stroke-width="1.1" opacity="0.8"/>
<line x1="484.20" y1="602.40" x2="484.20" y2="604.60" stroke="#222" stroke-width="1" />
<text x="484.20" y="613.60" font-size="6.9" text-anchor="middle" fill="#333" >C</text>
<line x1="420.80" y1="520.00" x2="420.80" y2="603.00" stroke="#222" stroke-width="1.2" />
<line x1="420.20" y1="602.40" x2="498.80" y2="602.40" stroke="#222" stroke-width="1.2" />
<line x1="418.20" y1="602.40" x2="420.80" y2="602.40" stroke="#222" stroke-width="1" />
<text x="416.40" y="605.40" font-size="6.9" text-anchor="end" fill="#333" >0</text>
<line x1="418.20" y1="582.40" x2="420.80" y2="582.40" stroke="#222" stroke-width="1" />
<text x="416.40" y="585.40" font-size="6.9" text-anchor="end" fill="#333" >250</text>
<line x1="418.20" y1="562.30" x2="420.80" y2="562.30" stroke="#222" stroke-width="1" />
<text x="416.40" y="565.30" font-size="6.9" text-anchor="end" fill="#333" >500</text>
<line x1="418.20" y1="542.60" x2="420.80" y2="542.60" stroke="#222" stroke-width="1" />
<text x="416.40" y="545.60" font-size="6.9" text-anchor="end" fill="#333" >750</text>
<line x1="418.20" y1="522.30" x2="420.80" y2="522.30" stroke="#222" stroke-width="1" />
<text x="416.40" y="525.30" font-size="6.9" text-anchor="end" fill="#333" >1000</text>
<circle cx="456.90" cy="563.90" r="1.05" fill="none" stroke="#333" stroke-width="0.55" />
<circle cx="460.10" cy="564.71" r="1.05" fill="none" stroke="#333" stroke-width="0.55" />
<circle cx="463.30" cy="565.51" r="1.05" fill="none" stroke="#333" stroke-width="0.55" />
<circle cx="458.50" cy="567.11" r="1.05" fill="none" stroke="#333" stroke-width="0.55" />
<circle cx="461.70" cy="570.32" r="1.05" fill="none" stroke="#333" stroke-width="0.55" />
<circle cx="456.90" cy="573.53" r="1.05" fill="none" stroke="#333" stroke-width="0.55" />
<circle cx="463.30" cy="574.33" r="1.05" fill="none" stroke="#333" stroke-width="0.55" />
<circle cx="460.10" cy="578.34" r="1.05" fill="none" stroke="#333" stroke-width="0.55" />
<circle cx="456.90" cy="580.75" r="1.05" fill="none" stroke="#333" stroke-width="0.55" />
<circle cx="463.30" cy="581.55" r="1.05" fill="none" stroke="#333" stroke-width="0.55" />
<circle cx="455.30" cy="583.95" r="1.05" fill="none" stroke="#333" stroke-width="0.55" />
<circle cx="460.10" cy="584.36" r="1.05" fill="none" stroke="#333" stroke-width="0.55" />
<circle cx="464.90" cy="584.76" r="1.05" fill="none" stroke="#333" stroke-width="0.55" />
<circle cx="456.90" cy="585.96" r="1.05" fill="none" stroke="#333" stroke-width="0.55" />
<circle cx="461.70" cy="586.36" r="1.05" fill="none" stroke="#333" stroke-width="0.55" />
<circle cx="464.90" cy="586.76" r="1.05" fill="none" stroke="#333" stroke-width="0.55" />
<circle cx="484.20" cy="571.92" r="0.9" fill="none" stroke="#444" stroke-width="0.5" />
<text x="395.80" y="560.40" font-size="8.3" text-anchor="middle" fill="#333" textLength="63.00" lengthAdjust="spacingAndGlyphs" transform="rotate(-90 395.80 560.40)" >Mean intensity (A.U)</text>
<line x1="436.30" y1="529.70" x2="459.30" y2="529.70" stroke="#333" stroke-width="0.9" />
<line x1="460.70" y1="529.70" x2="483.80" y2="529.70" stroke="#333" stroke-width="0.9" />
<text x="447.30" y="530.10" font-size="7.2" text-anchor="middle" fill="#222" >**</text>
<text x="472.30" y="530.10" font-size="7.2" text-anchor="middle" fill="#222" >*</text>
<line x1="18.00" y1="542.40" x2="18.00" y2="524.80" stroke="#1a1a1a" stroke-width="1.1" />
<path d="M15.10 527.60 L18.00 520.80 L20.90 527.60 L18.00 525.70 Z" fill="#1a1a1a"/>
<text x="21.50" y="565.00" font-size="8.2" text-anchor="middle" fill="#333" textLength="17.20" lengthAdjust="spacingAndGlyphs" transform="rotate(-90 21.50 565.00)" >CD56</text>
<line x1="18.00" y1="615.00" x2="18.00" y2="587.80" stroke="#1a1a1a" stroke-width="1.1" />
<path d="M15.10 590.60 L18.00 583.80 L20.90 590.60 L18.00 588.70 Z" fill="#1a1a1a"/>
<line x1="17.45" y1="615.00" x2="40.50" y2="615.00" stroke="#1a1a1a" stroke-width="1.1" />
<path d="M37.70 612.10 L44.50 615.00 L37.70 617.90 L39.60 615.00 Z" fill="#1a1a1a"/>
<text x="67.90" y="618.00" font-size="9.2" text-anchor="middle" fill="#333" textLength="16.70" lengthAdjust="spacingAndGlyphs" >CD16</text>
<line x1="89.50" y1="615.00" x2="108.50" y2="615.00" stroke="#1a1a1a" stroke-width="1.1" />
<path d="M105.70 612.10 L112.50 615.00 L105.70 617.90 L107.60 615.00 Z" fill="#1a1a1a"/>
<g fill="#26268a" opacity="0.85">
<rect x="60.9" y="549.4" width="0.55" height="0.55"/>
<rect x="63.4" y="546.6" width="0.55" height="0.55"/>
<rect x="62.5" y="557.2" width="0.55" height="0.55"/>
<rect x="58.9" y="562.3" width="0.55" height="0.55"/>
<rect x="58.8" y="559.6" width="0.55" height="0.55"/>
<rect x="59.0" y="547.3" width="0.55" height="0.55"/>
<rect x="61.7" y="573.8" width="0.55" height="0.55"/>
<rect x="59.4" y="552.0" width="0.55" height="0.55"/>
<rect x="63.2" y="578.1" width="0.55" height="0.55"/>
<rect x="62.8" y="558.3" width="0.55" height="0.55"/>
<rect x="65.8" y="545.7" width="0.55" height="0.55"/>
<rect x="64.9" y="554.4" width="0.55" height="0.55"/>
<rect x="59.6" y="548.2" width="0.55" height="0.55"/>
<rect x="60.8" y="573.4" width="0.55" height="0.55"/>
<rect x="59.9" y="564.9" width="0.55" height="0.55"/>
<rect x="63.3" y="557.4" width="0.55" height="0.55"/>
<rect x="62.6" y="546.3" width="0.55" height="0.55"/>
<rect x="58.9" y="551.4" width="0.55" height="0.55"/>
<rect x="63.6" y="559.4" width="0.55" height="0.55"/>
<rect x="60.9" y="565.1" width="0.55" height="0.55"/>
<rect x="61.9" y="554.8" width="0.55" height="0.55"/>
<rect x="64.5" y="569.2" width="0.55" height="0.55"/>
<rect x="60.3" y="564.7" width="0.55" height="0.55"/>
<rect x="62.4" y="575.5" width="0.55" height="0.55"/>
<rect x="64.0" y="554.4" width="0.55" height="0.55"/>
<rect x="65.9" y="548.3" width="0.55" height="0.55"/>
<rect x="61.6" y="571.3" width="0.55" height="0.55"/>
<rect x="59.6" y="561.6" width="0.55" height="0.55"/>
<rect x="58.8" y="568.1" width="0.55" height="0.55"/>
<rect x="64.2" y="564.6" width="0.55" height="0.55"/>
<rect x="65.1" y="555.3" width="0.55" height="0.55"/>
<rect x="63.7" y="565.4" width="0.55" height="0.55"/>
<rect x="62.8" y="560.4" width="0.55" height="0.55"/>
<rect x="64.8" y="578.0" width="0.55" height="0.55"/>
<rect x="62.1" y="567.9" width="0.55" height="0.55"/>
<rect x="59.0" y="569.3" width="0.55" height="0.55"/>
<rect x="63.4" y="579.8" width="0.55" height="0.55"/>
<rect x="64.7" y="554.2" width="0.55" height="0.55"/>
<rect x="61.4" y="568.1" width="0.55" height="0.55"/>
<rect x="58.7" y="560.6" width="0.55" height="0.55"/>
<rect x="59.8" y="548.2" width="0.55" height="0.55"/>
<rect x="58.9" y="571.7" width="0.55" height="0.55"/>
<rect x="59.5" y="552.9" width="0.55" height="0.55"/>
<rect x="61.4" y="575.4" width="0.55" height="0.55"/>
<rect x="59.1" y="560.2" width="0.55" height="0.55"/>
<rect x="62.6" y="575.8" width="0.55" height="0.55"/>
<rect x="64.6" y="575.1" width="0.55" height="0.55"/>
<rect x="60.6" y="559.0" width="0.55" height="0.55"/>
<rect x="61.2" y="575.8" width="0.55" height="0.55"/>
<rect x="65.7" y="549.4" width="0.55" height="0.55"/>
<rect x="59.8" y="552.4" width="0.55" height="0.55"/>
<rect x="60.3" y="561.5" width="0.55" height="0.55"/>
<rect x="62.9" y="553.5" width="0.55" height="0.55"/>
<rect x="58.5" y="559.1" width="0.55" height="0.55"/>
<rect x="61.3" y="564.4" width="0.55" height="0.55"/>
<rect x="65.6" y="568.9" width="0.55" height="0.55"/>
<rect x="62.4" y="566.2" width="0.55" height="0.55"/>
<rect x="63.6" y="545.9" width="0.55" height="0.55"/>
<rect x="65.2" y="572.1" width="0.55" height="0.55"/>
<rect x="65.1" y="572.7" width="0.55" height="0.55"/>
<rect x="61.4" y="558.4" width="0.55" height="0.55"/>
<rect x="59.3" y="566.8" width="0.55" height="0.55"/>
<rect x="59.0" y="546.4" width="0.55" height="0.55"/>
<rect x="60.1" y="549.8" width="0.55" height="0.55"/>
<rect x="61.1" y="545.9" width="0.55" height="0.55"/>
<rect x="58.5" y="549.4" width="0.55" height="0.55"/>
<rect x="59.3" y="557.1" width="0.55" height="0.55"/>
<rect x="58.7" y="575.5" width="0.55" height="0.55"/>
<rect x="63.1" y="549.3" width="0.55" height="0.55"/>
<rect x="60.4" y="556.5" width="0.55" height="0.55"/>
<rect x="61.2" y="548.4" width="0.55" height="0.55"/>
<rect x="64.9" y="579.8" width="0.55" height="0.55"/>
<rect x="62.0" y="561.4" width="0.55" height="0.55"/>
<rect x="59.1" y="547.7" width="0.55" height="0.55"/>
<rect x="61.1" y="553.5" width="0.55" height="0.55"/>
<rect x="64.7" y="549.8" width="0.55" height="0.55"/>
<rect x="58.7" y="578.2" width="0.55" height="0.55"/>
<rect x="62.5" y="549.3" width="0.55" height="0.55"/>
<rect x="62.6" y="545.0" width="0.55" height="0.55"/>
<rect x="62.5" y="579.2" width="0.55" height="0.55"/>
<rect x="65.0" y="569.1" width="0.55" height="0.55"/>
<rect x="60.5" y="557.2" width="0.55" height="0.55"/>
<rect x="59.8" y="571.8" width="0.55" height="0.55"/>
<rect x="62.5" y="572.0" width="0.55" height="0.55"/>
<rect x="61.0" y="552.0" width="0.55" height="0.55"/>
<rect x="64.6" y="579.5" width="0.55" height="0.55"/>
<rect x="64.9" y="573.0" width="0.55" height="0.55"/>
<rect x="64.6" y="570.6" width="0.55" height="0.55"/>
<rect x="60.2" y="562.6" width="0.55" height="0.55"/>
<rect x="61.2" y="545.0" width="0.55" height="0.55"/>
<rect x="58.7" y="554.1" width="0.55" height="0.55"/>
<rect x="60.4" y="568.9" width="0.55" height="0.55"/>
<rect x="65.7" y="560.1" width="0.55" height="0.55"/>
<rect x="65.5" y="579.6" width="0.55" height="0.55"/>
<rect x="65.7" y="557.1" width="0.55" height="0.55"/>
<rect x="60.2" y="552.2" width="0.55" height="0.55"/>
<rect x="60.0" y="551.4" width="0.55" height="0.55"/>
<rect x="63.2" y="576.4" width="0.55" height="0.55"/>
<rect x="64.8" y="561.3" width="0.55" height="0.55"/>
<rect x="63.4" y="572.8" width="0.55" height="0.55"/>
<rect x="59.1" y="567.8" width="0.55" height="0.55"/>
<rect x="65.3" y="572.2" width="0.55" height="0.55"/>
<rect x="64.1" y="561.2" width="0.55" height="0.55"/>
<rect x="59.8" y="572.4" width="0.55" height="0.55"/>
<rect x="61.0" y="572.8" width="0.55" height="0.55"/>
<rect x="65.8" y="558.3" width="0.55" height="0.55"/>
<rect x="61.5" y="578.1" width="0.55" height="0.55"/>
<rect x="63.9" y="550.1" width="0.55" height="0.55"/>
<rect x="59.5" y="549.4" width="0.55" height="0.55"/>
<rect x="65.3" y="573.0" width="0.55" height="0.55"/>
<rect x="59.6" y="573.8" width="0.55" height="0.55"/>
<rect x="65.9" y="567.7" width="0.55" height="0.55"/>
<rect x="61.1" y="563.8" width="0.55" height="0.55"/>
<rect x="59.5" y="544.5" width="0.55" height="0.55"/>
<rect x="65.8" y="567.4" width="0.55" height="0.55"/>
<rect x="62.4" y="577.6" width="0.55" height="0.55"/>
<rect x="61.8" y="575.4" width="0.55" height="0.55"/>
<rect x="64.7" y="551.6" width="0.55" height="0.55"/>
<rect x="60.4" y="554.5" width="0.55" height="0.55"/>
<rect x="60.3" y="565.1" width="0.55" height="0.55"/>
<rect x="60.4" y="559.1" width="0.55" height="0.55"/>
<rect x="59.5" y="576.8" width="0.55" height="0.55"/>
<rect x="61.2" y="560.5" width="0.55" height="0.55"/>
<rect x="62.9" y="576.6" width="0.55" height="0.55"/>
<rect x="61.7" y="577.0" width="0.55" height="0.55"/>
<rect x="62.3" y="563.1" width="0.55" height="0.55"/>
<rect x="62.4" y="544.7" width="0.55" height="0.55"/>
<rect x="61.8" y="550.6" width="0.55" height="0.55"/>
<rect x="58.5" y="572.8" width="0.55" height="0.55"/>
<rect x="59.8" y="561.0" width="0.55" height="0.55"/>
<rect x="63.9" y="564.0" width="0.55" height="0.55"/>
<rect x="60.9" y="562.7" width="0.55" height="0.55"/>
<rect x="62.7" y="572.2" width="0.55" height="0.55"/>
<rect x="59.3" y="564.2" width="0.55" height="0.55"/>
<rect x="60.4" y="554.0" width="0.55" height="0.55"/>
<rect x="64.3" y="562.3" width="0.55" height="0.55"/>
<rect x="62.7" y="571.4" width="0.55" height="0.55"/>
<rect x="65.3" y="560.0" width="0.55" height="0.55"/>
<rect x="63.1" y="562.2" width="0.55" height="0.55"/>
<rect x="62.3" y="568.9" width="0.55" height="0.55"/>
<rect x="61.9" y="563.2" width="0.55" height="0.55"/>
<rect x="62.1" y="577.9" width="0.55" height="0.55"/>
<rect x="63.7" y="575.6" width="0.55" height="0.55"/>
<rect x="65.6" y="553.3" width="0.55" height="0.55"/>
<rect x="62.7" y="578.0" width="0.55" height="0.55"/>
<rect x="64.8" y="548.9" width="0.55" height="0.55"/>
<rect x="59.4" y="559.9" width="0.55" height="0.55"/>
<rect x="59.0" y="552.7" width="0.55" height="0.55"/>
<rect x="59.0" y="568.1" width="0.55" height="0.55"/>
<rect x="64.4" y="576.3" width="0.55" height="0.55"/>
<rect x="59.7" y="569.8" width="0.55" height="0.55"/>
<rect x="63.5" y="549.1" width="0.55" height="0.55"/>
<rect x="65.1" y="578.8" width="0.55" height="0.55"/>
<rect x="60.1" y="578.3" width="0.55" height="0.55"/>
<rect x="61.5" y="561.5" width="0.55" height="0.55"/>
<rect x="65.9" y="574.0" width="0.55" height="0.55"/>
<rect x="59.7" y="559.5" width="0.55" height="0.55"/>
<rect x="62.4" y="556.2" width="0.55" height="0.55"/>
<rect x="60.0" y="555.5" width="0.55" height="0.55"/>
<rect x="63.9" y="544.7" width="0.55" height="0.55"/>
<rect x="62.7" y="559.9" width="0.55" height="0.55"/>
<rect x="58.6" y="555.9" width="0.55" height="0.55"/>
<rect x="63.2" y="562.4" width="0.55" height="0.55"/>
<rect x="59.0" y="579.5" width="0.55" height="0.55"/>
<rect x="64.4" y="579.0" width="0.55" height="0.55"/>
<rect x="59.3" y="553.6" width="0.55" height="0.55"/>
<rect x="58.8" y="572.0" width="0.55" height="0.55"/>
<rect x="60.5" y="548.7" width="0.55" height="0.55"/>
<rect x="61.7" y="576.8" width="0.55" height="0.55"/>
<rect x="64.6" y="553.3" width="0.55" height="0.55"/>
<rect x="59.6" y="577.1" width="0.55" height="0.55"/>
<rect x="62.8" y="569.2" width="0.55" height="0.55"/>
<rect x="59.2" y="546.1" width="0.55" height="0.55"/>
<rect x="63.7" y="559.3" width="0.55" height="0.55"/>
<rect x="59.0" y="577.8" width="0.55" height="0.55"/>
<rect x="63.3" y="572.9" width="0.55" height="0.55"/>
<rect x="59.1" y="574.8" width="0.55" height="0.55"/>
<rect x="59.0" y="575.1" width="0.55" height="0.55"/>
<rect x="61.9" y="556.2" width="0.55" height="0.55"/>
<rect x="62.6" y="577.4" width="0.55" height="0.55"/>
<rect x="60.5" y="548.7" width="0.55" height="0.55"/>
<rect x="62.5" y="552.6" width="0.55" height="0.55"/>
<rect x="59.3" y="549.8" width="0.55" height="0.55"/>
<rect x="58.9" y="551.3" width="0.55" height="0.55"/>
<rect x="60.8" y="555.0" width="0.55" height="0.55"/>
<rect x="64.2" y="554.4" width="0.55" height="0.55"/>
<rect x="62.3" y="550.4" width="0.55" height="0.55"/>
<rect x="61.1" y="544.7" width="0.55" height="0.55"/>
<rect x="60.4" y="544.6" width="0.55" height="0.55"/>
<rect x="64.0" y="563.8" width="0.55" height="0.55"/>
<rect x="59.9" y="561.1" width="0.55" height="0.55"/>
<rect x="65.5" y="547.8" width="0.55" height="0.55"/>
<rect x="64.6" y="559.6" width="0.55" height="0.55"/>
<rect x="62.2" y="574.0" width="0.55" height="0.55"/>
<rect x="61.4" y="562.2" width="0.55" height="0.55"/>
<rect x="63.7" y="579.4" width="0.55" height="0.55"/>
<rect x="61.1" y="574.0" width="0.55" height="0.55"/>
<rect x="63.8" y="566.9" width="0.55" height="0.55"/>
<rect x="61.5" y="556.5" width="0.55" height="0.55"/>
<rect x="58.9" y="548.7" width="0.55" height="0.55"/>
<rect x="59.0" y="570.7" width="0.55" height="0.55"/>
<rect x="60.4" y="549.9" width="0.55" height="0.55"/>
<rect x="59.1" y="574.3" width="0.55" height="0.55"/>
<rect x="65.0" y="568.1" width="0.55" height="0.55"/>
<rect x="60.6" y="552.7" width="0.55" height="0.55"/>
<rect x="60.7" y="560.5" width="0.55" height="0.55"/>
<rect x="59.7" y="560.0" width="0.55" height="0.55"/>
<rect x="60.5" y="578.6" width="0.55" height="0.55"/>
<rect x="65.8" y="563.7" width="0.55" height="0.55"/>
<rect x="60.3" y="578.8" width="0.55" height="0.55"/>
<rect x="60.8" y="556.8" width="0.55" height="0.55"/>
<rect x="58.5" y="557.7" width="0.55" height="0.55"/>
<rect x="62.1" y="562.1" width="0.55" height="0.55"/>
<rect x="60.0" y="562.2" width="0.55" height="0.55"/>
<rect x="58.5" y="553.5" width="0.55" height="0.55"/>
<rect x="59.2" y="558.4" width="0.55" height="0.55"/>
<rect x="58.8" y="544.8" width="0.55" height="0.55"/>
<rect x="60.8" y="552.4" width="0.55" height="0.55"/>
<rect x="62.9" y="563.1" width="0.55" height="0.55"/>
<rect x="64.1" y="567.7" width="0.55" height="0.55"/>
<rect x="63.9" y="575.6" width="0.55" height="0.55"/>
<rect x="61.4" y="555.7" width="0.55" height="0.55"/>
<rect x="65.9" y="549.4" width="0.55" height="0.55"/>
<rect x="63.9" y="567.2" width="0.55" height="0.55"/>
<rect x="58.8" y="574.1" width="0.55" height="0.55"/>
<rect x="65.2" y="566.6" width="0.55" height="0.55"/>
<rect x="64.0" y="573.2" width="0.55" height="0.55"/>
<rect x="59.5" y="562.9" width="0.55" height="0.55"/>
<rect x="62.3" y="574.1" width="0.55" height="0.55"/>
<rect x="64.5" y="573.8" width="0.55" height="0.55"/>
<rect x="62.9" y="576.1" width="0.55" height="0.55"/>
<rect x="63.6" y="569.0" width="0.55" height="0.55"/>
<rect x="60.2" y="545.1" width="0.55" height="0.55"/>
<rect x="59.5" y="557.0" width="0.55" height="0.55"/>
<rect x="59.3" y="574.1" width="0.55" height="0.55"/>
<rect x="62.7" y="566.6" width="0.55" height="0.55"/>
<rect x="63.2" y="568.5" width="0.55" height="0.55"/>
<rect x="62.2" y="544.1" width="0.55" height="0.55"/>
<rect x="64.5" y="570.9" width="0.55" height="0.55"/>
<rect x="62.3" y="563.3" width="0.55" height="0.55"/>
<rect x="63.4" y="546.4" width="0.55" height="0.55"/>
<rect x="64.0" y="553.1" width="0.55" height="0.55"/>
<rect x="59.1" y="553.6" width="0.55" height="0.55"/>
<rect x="64.0" y="551.4" width="0.55" height="0.55"/>
<rect x="64.0" y="579.1" width="0.55" height="0.55"/>
<rect x="62.2" y="557.8" width="0.55" height="0.55"/>
<rect x="62.1" y="568.6" width="0.55" height="0.55"/>
<rect x="64.3" y="566.2" width="0.55" height="0.55"/>
<rect x="63.3" y="546.8" width="0.55" height="0.55"/>
<rect x="59.6" y="553.1" width="0.55" height="0.55"/>
<rect x="64.1" y="555.0" width="0.55" height="0.55"/>
<rect x="62.8" y="544.4" width="0.55" height="0.55"/>
<rect x="59.0" y="553.7" width="0.55" height="0.55"/>
<rect x="63.5" y="568.9" width="0.55" height="0.55"/>
<rect x="63.6" y="554.5" width="0.55" height="0.55"/>
<rect x="62.4" y="560.7" width="0.55" height="0.55"/>
<rect x="62.0" y="548.3" width="0.55" height="0.55"/>
<rect x="65.2" y="551.2" width="0.55" height="0.55"/>
<rect x="65.8" y="577.7" width="0.55" height="0.55"/>
<rect x="58.6" y="560.5" width="0.55" height="0.55"/>
<rect x="88.2" y="580.6" width="0.55" height="0.55"/>
<rect x="76.4" y="571.5" width="0.55" height="0.55"/>
<rect x="68.7" y="580.3" width="0.55" height="0.55"/>
<rect x="68.7" y="575.6" width="0.55" height="0.55"/>
<rect x="66.5" y="574.8" width="0.55" height="0.55"/>
<rect x="92.5" y="569.7" width="0.55" height="0.55"/>
<rect x="88.2" y="574.6" width="0.55" height="0.55"/>
<rect x="90.4" y="577.1" width="0.55" height="0.55"/>
<rect x="69.4" y="579.7" width="0.55" height="0.55"/>
<rect x="77.6" y="568.3" width="0.55" height="0.55"/>
<rect x="62.1" y="574.4" width="0.55" height="0.55"/>
<rect x="76.4" y="571.9" width="0.55" height="0.55"/>
<rect x="66.5" y="572.5" width="0.55" height="0.55"/>
<rect x="72.1" y="578.9" width="0.55" height="0.55"/>
<rect x="62.1" y="577.8" width="0.55" height="0.55"/>
<rect x="88.9" y="569.6" width="0.55" height="0.55"/>
<rect x="91.6" y="577.3" width="0.55" height="0.55"/>
<rect x="90.9" y="571.8" width="0.55" height="0.55"/>
<rect x="73.9" y="573.1" width="0.55" height="0.55"/>
<rect x="94.0" y="575.7" width="0.55" height="0.55"/>
<rect x="73.5" y="573.6" width="0.55" height="0.55"/>
<rect x="70.8" y="568.6" width="0.55" height="0.55"/>
<rect x="65.3" y="578.9" width="0.55" height="0.55"/>
<rect x="71.1" y="580.2" width="0.55" height="0.55"/>
<rect x="70.0" y="571.5" width="0.55" height="0.55"/>
<rect x="78.4" y="570.5" width="0.55" height="0.55"/>
<rect x="73.9" y="580.4" width="0.55" height="0.55"/>
<rect x="90.3" y="578.6" width="0.55" height="0.55"/>
<rect x="82.2" y="579.9" width="0.55" height="0.55"/>
<rect x="92.1" y="575.1" width="0.55" height="0.55"/>
<rect x="85.0" y="568.6" width="0.55" height="0.55"/>
<rect x="85.4" y="573.9" width="0.55" height="0.55"/>
<rect x="86.1" y="576.4" width="0.55" height="0.55"/>
<rect x="71.2" y="568.6" width="0.55" height="0.55"/>
<rect x="91.7" y="569.7" width="0.55" height="0.55"/>
<rect x="77.1" y="572.5" width="0.55" height="0.55"/>
<rect x="71.5" y="577.6" width="0.55" height="0.55"/>
<rect x="93.2" y="571.4" width="0.55" height="0.55"/>
<rect x="83.0" y="571.9" width="0.55" height="0.55"/>
<rect x="79.8" y="573.1" width="0.55" height="0.55"/>
<rect x="67.4" y="570.1" width="0.55" height="0.55"/>
<rect x="68.7" y="579.8" width="0.55" height="0.55"/>
<rect x="77.9" y="570.9" width="0.55" height="0.55"/>
<rect x="91.0" y="581.0" width="0.55" height="0.55"/>
<rect x="76.4" y="569.8" width="0.55" height="0.55"/>
<rect x="68.2" y="569.2" width="0.55" height="0.55"/>
<rect x="72.9" y="569.2" width="0.55" height="0.55"/>
<rect x="69.7" y="571.4" width="0.55" height="0.55"/>
<rect x="80.2" y="579.5" width="0.55" height="0.55"/>
<rect x="86.0" y="573.4" width="0.55" height="0.55"/>
<rect x="75.2" y="574.8" width="0.55" height="0.55"/>
<rect x="74.1" y="572.4" width="0.55" height="0.55"/>
<rect x="64.0" y="571.6" width="0.55" height="0.55"/>
<rect x="93.0" y="569.6" width="0.55" height="0.55"/>
<rect x="78.1" y="576.2" width="0.55" height="0.55"/>
<rect x="89.6" y="570.8" width="0.55" height="0.55"/>
<rect x="70.7" y="571.2" width="0.55" height="0.55"/>
<rect x="74.8" y="573.8" width="0.55" height="0.55"/>
<rect x="92.5" y="579.0" width="0.55" height="0.55"/>
<rect x="89.9" y="568.3" width="0.55" height="0.55"/>
<rect x="63.0" y="577.2" width="0.55" height="0.55"/>
<rect x="90.7" y="574.2" width="0.55" height="0.55"/>
<rect x="80.8" y="568.0" width="0.55" height="0.55"/>
<rect x="74.5" y="580.0" width="0.55" height="0.55"/>
<rect x="88.4" y="579.1" width="0.55" height="0.55"/>
<rect x="93.1" y="571.2" width="0.55" height="0.55"/>
<rect x="65.5" y="570.0" width="0.55" height="0.55"/>
<rect x="78.7" y="576.9" width="0.55" height="0.55"/>
<rect x="92.1" y="577.4" width="0.55" height="0.55"/>
<rect x="82.7" y="577.9" width="0.55" height="0.55"/>
<rect x="76.6" y="575.2" width="0.55" height="0.55"/>
<rect x="63.3" y="578.2" width="0.55" height="0.55"/>
<rect x="69.4" y="580.0" width="0.55" height="0.55"/>
<rect x="82.7" y="571.9" width="0.55" height="0.55"/>
<rect x="66.1" y="571.3" width="0.55" height="0.55"/>
<rect x="82.4" y="577.1" width="0.55" height="0.55"/>
<rect x="65.6" y="568.9" width="0.55" height="0.55"/>
<rect x="78.8" y="575.6" width="0.55" height="0.55"/>
<rect x="74.4" y="570.9" width="0.55" height="0.55"/>
<rect x="81.2" y="568.1" width="0.55" height="0.55"/>
<rect x="71.6" y="574.0" width="0.55" height="0.55"/>
<rect x="92.7" y="576.4" width="0.55" height="0.55"/>
<rect x="90.3" y="574.2" width="0.55" height="0.55"/>
<rect x="69.5" y="571.2" width="0.55" height="0.55"/>
<rect x="92.7" y="577.2" width="0.55" height="0.55"/>
<rect x="71.8" y="568.3" width="0.55" height="0.55"/>
<rect x="77.9" y="576.8" width="0.55" height="0.55"/>
<rect x="75.4" y="571.3" width="0.55" height="0.55"/>
<rect x="83.4" y="580.0" width="0.55" height="0.55"/>
<rect x="69.3" y="568.4" width="0.55" height="0.55"/>
<rect x="72.8" y="573.5" width="0.55" height="0.55"/>
<rect x="83.8" y="570.6" width="0.55" height="0.55"/>
<rect x="87.5" y="577.6" width="0.55" height="0.55"/>
<rect x="78.2" y="570.7" width="0.55" height="0.55"/>
<rect x="93.0" y="572.1" width="0.55" height="0.55"/>
<rect x="88.2" y="571.0" width="0.55" height="0.55"/>
<rect x="69.1" y="577.9" width="0.55" height="0.55"/>
<rect x="71.4" y="580.4" width="0.55" height="0.55"/>
<rect x="77.9" y="570.4" width="0.55" height="0.55"/>
<rect x="69.1" y="573.4" width="0.55" height="0.55"/>
<rect x="83.3" y="580.3" width="0.55" height="0.55"/>
<rect x="66.7" y="573.1" width="0.55" height="0.55"/>
<rect x="68.8" y="580.7" width="0.55" height="0.55"/>
<rect x="66.5" y="568.7" width="0.55" height="0.55"/>
<rect x="63.9" y="573.1" width="0.55" height="0.55"/>
<rect x="90.7" y="579.5" width="0.55" height="0.55"/>
<rect x="85.4" y="581.0" width="0.55" height="0.55"/>
<rect x="91.8" y="572.3" width="0.55" height="0.55"/>
<rect x="67.9" y="580.2" width="0.55" height="0.55"/>
<rect x="85.9" y="568.4" width="0.55" height="0.55"/>
<rect x="83.3" y="572.9" width="0.55" height="0.55"/>
<rect x="74.0" y="572.3" width="0.55" height="0.55"/>
<rect x="67.4" y="568.0" width="0.55" height="0.55"/>
<rect x="71.0" y="572.6" width="0.55" height="0.55"/>
<rect x="92.6" y="569.6" width="0.55" height="0.55"/>
<rect x="92.9" y="570.7" width="0.55" height="0.55"/>
<rect x="73.4" y="578.7" width="0.55" height="0.55"/>
<rect x="88.3" y="573.6" width="0.55" height="0.55"/>
<rect x="63.6" y="574.2" width="0.55" height="0.55"/>
<rect x="73.9" y="580.0" width="0.55" height="0.55"/>
<rect x="68.2" y="572.7" width="0.55" height="0.55"/>
<rect x="90.7" y="568.4" width="0.55" height="0.55"/>
<rect x="75.1" y="578.6" width="0.55" height="0.55"/>
<rect x="86.5" y="568.5" width="0.55" height="0.55"/>
<rect x="63.1" y="568.8" width="0.55" height="0.55"/>
<rect x="91.4" y="571.3" width="0.55" height="0.55"/>
<rect x="85.9" y="579.7" width="0.55" height="0.55"/>
<rect x="72.9" y="571.5" width="0.55" height="0.55"/>
<rect x="92.6" y="576.0" width="0.55" height="0.55"/>
<rect x="70.4" y="577.3" width="0.55" height="0.55"/>
<rect x="72.1" y="571.6" width="0.55" height="0.55"/>
<rect x="62.1" y="577.8" width="0.55" height="0.55"/>
<rect x="91.3" y="576.2" width="0.55" height="0.55"/>
<rect x="92.2" y="568.3" width="0.55" height="0.55"/>
<rect x="69.5" y="574.2" width="0.55" height="0.55"/>
<rect x="92.6" y="580.4" width="0.55" height="0.55"/>
<rect x="74.4" y="571.3" width="0.55" height="0.55"/>
<rect x="75.8" y="574.4" width="0.55" height="0.55"/>
<rect x="91.7" y="570.4" width="0.55" height="0.55"/>
<rect x="87.7" y="577.6" width="0.55" height="0.55"/>
<rect x="88.3" y="578.0" width="0.55" height="0.55"/>
<rect x="81.4" y="572.3" width="0.55" height="0.55"/>
<rect x="72.2" y="572.7" width="0.55" height="0.55"/>
<rect x="87.0" y="569.0" width="0.55" height="0.55"/>
<rect x="68.3" y="577.8" width="0.55" height="0.55"/>
<rect x="69.9" y="568.8" width="0.55" height="0.55"/>
<rect x="63.1" y="575.2" width="0.55" height="0.55"/>
<rect x="72.4" y="580.7" width="0.55" height="0.55"/>
<rect x="90.3" y="580.8" width="0.55" height="0.55"/>
<rect x="70.5" y="569.1" width="0.55" height="0.55"/>
<rect x="65.1" y="574.5" width="0.55" height="0.55"/>
<rect x="84.7" y="573.8" width="0.55" height="0.55"/>
<rect x="69.5" y="573.4" width="0.55" height="0.55"/>
<rect x="81.8" y="576.8" width="0.55" height="0.55"/>
<rect x="85.9" y="579.0" width="0.55" height="0.55"/>
<rect x="83.3" y="569.6" width="0.55" height="0.55"/>
<rect x="88.9" y="571.8" width="0.55" height="0.55"/>
<rect x="80.1" y="572.8" width="0.55" height="0.55"/>
<rect x="85.6" y="570.6" width="0.55" height="0.55"/>
<rect x="69.9" y="571.2" width="0.55" height="0.55"/>
<rect x="66.9" y="579.5" width="0.55" height="0.55"/>
<rect x="80.5" y="572.2" width="0.55" height="0.55"/>
<rect x="74.7" y="580.9" width="0.55" height="0.55"/>
<rect x="78.2" y="571.0" width="0.55" height="0.55"/>
<rect x="87.9" y="576.5" width="0.55" height="0.55"/>
<rect x="93.7" y="569.3" width="0.55" height="0.55"/>
<rect x="77.2" y="578.6" width="0.55" height="0.55"/>
<rect x="88.9" y="579.9" width="0.55" height="0.55"/>
<rect x="63.3" y="571.8" width="0.55" height="0.55"/>
<rect x="65.8" y="570.5" width="0.55" height="0.55"/>
<rect x="93.1" y="575.6" width="0.55" height="0.55"/>
<rect x="91.8" y="572.8" width="0.55" height="0.55"/>
<rect x="89.7" y="573.8" width="0.55" height="0.55"/>
<rect x="70.3" y="578.1" width="0.55" height="0.55"/>
<rect x="92.3" y="569.4" width="0.55" height="0.55"/>
<rect x="81.1" y="576.1" width="0.55" height="0.55"/>
<rect x="69.0" y="572.8" width="0.55" height="0.55"/>
<rect x="66.5" y="570.7" width="0.55" height="0.55"/>
<rect x="70.2" y="575.8" width="0.55" height="0.55"/>
<rect x="82.9" y="570.6" width="0.55" height="0.55"/>
<rect x="62.4" y="572.3" width="0.55" height="0.55"/>
<rect x="83.7" y="570.4" width="0.55" height="0.55"/>
<rect x="72.0" y="570.6" width="0.55" height="0.55"/>
<rect x="87.4" y="575.1" width="0.55" height="0.55"/>
<rect x="64.0" y="569.3" width="0.55" height="0.55"/>
<rect x="74.6" y="575.2" width="0.55" height="0.55"/>
<rect x="82.5" y="569.2" width="0.55" height="0.55"/>
<rect x="67.2" y="577.0" width="0.55" height="0.55"/>
<rect x="75.1" y="571.7" width="0.55" height="0.55"/>
<rect x="71.8" y="580.4" width="0.55" height="0.55"/>
<rect x="72.0" y="575.4" width="0.55" height="0.55"/>
<rect x="73.4" y="573.4" width="0.55" height="0.55"/>
<rect x="89.7" y="581.0" width="0.55" height="0.55"/>
<rect x="73.6" y="570.6" width="0.55" height="0.55"/>
<rect x="85.3" y="570.6" width="0.55" height="0.55"/>
<rect x="62.2" y="579.7" width="0.55" height="0.55"/>
<rect x="75.6" y="578.7" width="0.55" height="0.55"/>
<rect x="75.0" y="579.5" width="0.55" height="0.55"/>
<rect x="76.7" y="570.1" width="0.55" height="0.55"/>
<rect x="62.5" y="575.2" width="0.55" height="0.55"/>
<rect x="82.5" y="579.8" width="0.55" height="0.55"/>
<rect x="64.8" y="576.1" width="0.55" height="0.55"/>
<rect x="73.9" y="574.6" width="0.55" height="0.55"/>
<rect x="66.7" y="571.7" width="0.55" height="0.55"/>
<rect x="78.7" y="580.0" width="0.55" height="0.55"/>
<rect x="65.5" y="574.4" width="0.55" height="0.55"/>
<rect x="87.8" y="580.6" width="0.55" height="0.55"/>
<rect x="68.3" y="569.6" width="0.55" height="0.55"/>
<rect x="92.2" y="580.7" width="0.55" height="0.55"/>
<rect x="77.4" y="568.7" width="0.55" height="0.55"/>
<rect x="91.6" y="573.0" width="0.55" height="0.55"/>
<rect x="90.9" y="576.1" width="0.55" height="0.55"/>
<rect x="88.4" y="570.1" width="0.55" height="0.55"/>
<rect x="87.1" y="570.9" width="0.55" height="0.55"/>
<rect x="74.9" y="579.0" width="0.55" height="0.55"/>
<rect x="88.5" y="570.4" width="0.55" height="0.55"/>
<rect x="69.0" y="573.2" width="0.55" height="0.55"/>
<rect x="78.6" y="573.0" width="0.55" height="0.55"/>
<rect x="65.9" y="571.2" width="0.55" height="0.55"/>
<rect x="85.2" y="579.7" width="0.55" height="0.55"/>
<rect x="63.3" y="575.3" width="0.55" height="0.55"/>
<rect x="86.2" y="568.5" width="0.55" height="0.55"/>
<rect x="88.8" y="569.5" width="0.55" height="0.55"/>
<rect x="81.2" y="575.2" width="0.55" height="0.55"/>
<rect x="82.1" y="572.0" width="0.55" height="0.55"/>
<rect x="75.4" y="575.6" width="0.55" height="0.55"/>
<rect x="75.6" y="576.6" width="0.55" height="0.55"/>
<rect x="76.3" y="573.7" width="0.55" height="0.55"/>
<rect x="62.7" y="576.0" width="0.55" height="0.55"/>
<rect x="77.7" y="571.1" width="0.55" height="0.55"/>
<rect x="86.4" y="578.1" width="0.55" height="0.55"/>
<rect x="76.7" y="570.3" width="0.55" height="0.55"/>
<rect x="77.1" y="569.4" width="0.55" height="0.55"/>
<rect x="66.1" y="573.6" width="0.55" height="0.55"/>
<rect x="64.9" y="573.7" width="0.55" height="0.55"/>
<rect x="78.3" y="568.5" width="0.55" height="0.55"/>
<rect x="82.4" y="569.1" width="0.55" height="0.55"/>
<rect x="85.5" y="578.1" width="0.55" height="0.55"/>
<rect x="78.4" y="568.7" width="0.55" height="0.55"/>
<rect x="78.1" y="572.9" width="0.55" height="0.55"/>
<rect x="92.4" y="569.8" width="0.55" height="0.55"/>
<rect x="89.4" y="580.9" width="0.55" height="0.55"/>
<rect x="85.4" y="578.6" width="0.55" height="0.55"/>
<rect x="68.2" y="580.8" width="0.55" height="0.55"/>
<rect x="77.7" y="580.4" width="0.55" height="0.55"/>
<rect x="91.3" y="570.1" width="0.55" height="0.55"/>
<rect x="87.2" y="580.1" width="0.55" height="0.55"/>
<rect x="64.1" y="572.6" width="0.55" height="0.55"/>
<rect x="86.2" y="570.1" width="0.55" height="0.55"/>
<rect x="90.7" y="571.6" width="0.55" height="0.55"/>
<rect x="88.1" y="569.9" width="0.55" height="0.55"/>
<rect x="78.1" y="580.0" width="0.55" height="0.55"/>
<rect x="68.7" y="571.4" width="0.55" height="0.55"/>
<rect x="78.2" y="572.1" width="0.55" height="0.55"/>
<rect x="63.2" y="570.4" width="0.55" height="0.55"/>
<rect x="67.2" y="580.2" width="0.55" height="0.55"/>
<rect x="83.7" y="579.6" width="0.55" height="0.55"/>
<rect x="67.4" y="578.2" width="0.55" height="0.55"/>
<rect x="65.7" y="574.9" width="0.55" height="0.55"/>
<rect x="82.4" y="572.7" width="0.55" height="0.55"/>
<rect x="89.9" y="575.2" width="0.55" height="0.55"/>
<rect x="80.6" y="579.5" width="0.55" height="0.55"/>
<rect x="65.3" y="580.9" width="0.55" height="0.55"/>
<rect x="82.2" y="573.1" width="0.55" height="0.55"/>
<rect x="87.5" y="571.4" width="0.55" height="0.55"/>
<rect x="93.7" y="575.5" width="0.55" height="0.55"/>
<rect x="73.5" y="577.9" width="0.55" height="0.55"/>
<rect x="76.2" y="570.3" width="0.55" height="0.55"/>
<rect x="85.8" y="568.6" width="0.55" height="0.55"/>
<rect x="88.2" y="571.3" width="0.55" height="0.55"/>
<rect x="82.5" y="580.8" width="0.55" height="0.55"/>
<rect x="80.7" y="576.6" width="0.55" height="0.55"/>
<rect x="72.0" y="568.0" width="0.55" height="0.55"/>
<rect x="63.1" y="569.9" width="0.55" height="0.55"/>
<rect x="81.7" y="573.6" width="0.55" height="0.55"/>
<rect x="78.4" y="579.6" width="0.55" height="0.55"/>
<rect x="66.2" y="571.0" width="0.55" height="0.55"/>
<rect x="82.9" y="568.3" width="0.55" height="0.55"/>
<rect x="62.1" y="572.6" width="0.55" height="0.55"/>
<rect x="65.4" y="572.6" width="0.55" height="0.55"/>
<rect x="69.2" y="575.6" width="0.55" height="0.55"/>
<rect x="80.9" y="570.7" width="0.55" height="0.55"/>
<rect x="82.0" y="574.2" width="0.55" height="0.55"/>
<rect x="66.3" y="580.2" width="0.55" height="0.55"/>
<rect x="69.8" y="569.9" width="0.55" height="0.55"/>
<rect x="65.1" y="576.3" width="0.55" height="0.55"/>
<rect x="89.9" y="578.2" width="0.55" height="0.55"/>
<rect x="74.9" y="571.4" width="0.55" height="0.55"/>
<rect x="62.4" y="576.4" width="0.55" height="0.55"/>
<rect x="80.0" y="572.6" width="0.55" height="0.55"/>
<rect x="82.7" y="573.8" width="0.55" height="0.55"/>
<rect x="92.0" y="577.5" width="0.55" height="0.55"/>
<rect x="70.0" y="579.7" width="0.55" height="0.55"/>
<rect x="63.4" y="574.9" width="0.55" height="0.55"/>
<rect x="75.0" y="571.1" width="0.55" height="0.55"/>
<rect x="63.9" y="578.1" width="0.55" height="0.55"/>
<rect x="62.4" y="575.2" width="0.55" height="0.55"/>
<rect x="92.1" y="569.8" width="0.55" height="0.55"/>
<rect x="68.4" y="575.9" width="0.55" height="0.55"/>
<rect x="78.2" y="576.3" width="0.55" height="0.55"/>
<rect x="88.0" y="570.3" width="0.55" height="0.55"/>
<rect x="71.9" y="571.9" width="0.55" height="0.55"/>
<rect x="63.6" y="579.6" width="0.55" height="0.55"/>
<rect x="87.1" y="577.3" width="0.55" height="0.55"/>
<rect x="62.2" y="579.0" width="0.55" height="0.55"/>
<rect x="85.8" y="574.0" width="0.55" height="0.55"/>
<rect x="85.7" y="573.9" width="0.55" height="0.55"/>
<rect x="69.2" y="569.4" width="0.55" height="0.55"/>
<rect x="69.4" y="568.5" width="0.55" height="0.55"/>
<rect x="72.7" y="577.7" width="0.55" height="0.55"/>
<rect x="84.2" y="579.0" width="0.55" height="0.55"/>
<rect x="84.8" y="571.5" width="0.55" height="0.55"/>
<rect x="79.7" y="573.7" width="0.55" height="0.55"/>
<rect x="87.2" y="574.8" width="0.55" height="0.55"/>
<rect x="70.5" y="576.3" width="0.55" height="0.55"/>
<rect x="92.9" y="570.8" width="0.55" height="0.55"/>
<rect x="90.2" y="568.2" width="0.55" height="0.55"/>
<rect x="70.3" y="571.1" width="0.55" height="0.55"/>
<rect x="85.8" y="580.3" width="0.55" height="0.55"/>
<rect x="85.9" y="572.2" width="0.55" height="0.55"/>
<rect x="105.8" y="571.6" width="0.55" height="0.55"/>
<rect x="94.3" y="581.4" width="0.55" height="0.55"/>
<rect x="101.4" y="577.8" width="0.55" height="0.55"/>
<rect x="102.0" y="582.6" width="0.55" height="0.55"/>
<rect x="98.5" y="580.3" width="0.55" height="0.55"/>
<rect x="102.6" y="580.6" width="0.55" height="0.55"/>
<rect x="97.9" y="578.3" width="0.55" height="0.55"/>
<rect x="100.3" y="571.2" width="0.55" height="0.55"/>
<rect x="93.8" y="576.6" width="0.55" height="0.55"/>
<rect x="91.4" y="581.5" width="0.55" height="0.55"/>
<rect x="92.6" y="566.5" width="0.55" height="0.55"/>
<rect x="91.9" y="581.8" width="0.55" height="0.55"/>
<rect x="96.2" y="568.4" width="0.55" height="0.55"/>
<rect x="90.5" y="566.7" width="0.55" height="0.55"/>
<rect x="102.5" y="576.8" width="0.55" height="0.55"/>
<rect x="102.5" y="578.5" width="0.55" height="0.55"/>
<rect x="91.2" y="576.0" width="0.55" height="0.55"/>
<rect x="96.5" y="579.9" width="0.55" height="0.55"/>
<rect x="104.8" y="581.2" width="0.55" height="0.55"/>
<rect x="91.2" y="580.8" width="0.55" height="0.55"/>
<rect x="106.5" y="582.1" width="0.55" height="0.55"/>
<rect x="91.9" y="569.5" width="0.55" height="0.55"/>
<rect x="92.0" y="566.6" width="0.55" height="0.55"/>
<rect x="105.3" y="579.8" width="0.55" height="0.55"/>
<rect x="101.4" y="580.0" width="0.55" height="0.55"/>
<rect x="101.4" y="570.9" width="0.55" height="0.55"/>
<rect x="91.8" y="567.7" width="0.55" height="0.55"/>
<rect x="103.6" y="569.5" width="0.55" height="0.55"/>
<rect x="95.7" y="573.2" width="0.55" height="0.55"/>
<rect x="90.4" y="570.4" width="0.55" height="0.55"/>
<rect x="95.1" y="578.2" width="0.55" height="0.55"/>
<rect x="96.6" y="571.5" width="0.55" height="0.55"/>
<rect x="107.4" y="574.6" width="0.55" height="0.55"/>
<rect x="105.3" y="576.5" width="0.55" height="0.55"/>
<rect x="90.6" y="573.0" width="0.55" height="0.55"/>
<rect x="97.9" y="579.1" width="0.55" height="0.55"/>
<rect x="96.2" y="578.0" width="0.55" height="0.55"/>
<rect x="99.7" y="569.7" width="0.55" height="0.55"/>
<rect x="105.5" y="567.5" width="0.55" height="0.55"/>
<rect x="104.8" y="568.9" width="0.55" height="0.55"/>
<rect x="90.0" y="569.4" width="0.55" height="0.55"/>
<rect x="103.7" y="582.6" width="0.55" height="0.55"/>
<rect x="90.1" y="574.3" width="0.55" height="0.55"/>
<rect x="98.8" y="579.5" width="0.55" height="0.55"/>
<rect x="93.3" y="574.4" width="0.55" height="0.55"/>
<rect x="96.2" y="580.1" width="0.55" height="0.55"/>
<rect x="94.7" y="582.0" width="0.55" height="0.55"/>
<rect x="95.1" y="569.7" width="0.55" height="0.55"/>
<rect x="102.6" y="574.5" width="0.55" height="0.55"/>
<rect x="92.0" y="576.8" width="0.55" height="0.55"/>
<rect x="91.5" y="579.4" width="0.55" height="0.55"/>
<rect x="102.5" y="579.4" width="0.55" height="0.55"/>
<rect x="101.3" y="572.0" width="0.55" height="0.55"/>
<rect x="97.2" y="572.7" width="0.55" height="0.55"/>
<rect x="106.0" y="567.5" width="0.55" height="0.55"/>
<rect x="106.0" y="566.4" width="0.55" height="0.55"/>
<rect x="93.7" y="570.5" width="0.55" height="0.55"/>
<rect x="106.2" y="574.5" width="0.55" height="0.55"/>
<rect x="96.8" y="581.0" width="0.55" height="0.55"/>
<rect x="94.2" y="573.8" width="0.55" height="0.55"/>
<rect x="99.6" y="578.8" width="0.55" height="0.55"/>
<rect x="103.6" y="577.0" width="0.55" height="0.55"/>
<rect x="96.3" y="571.6" width="0.55" height="0.55"/>
<rect x="92.8" y="580.3" width="0.55" height="0.55"/>
<rect x="101.9" y="578.6" width="0.55" height="0.55"/>
<rect x="93.1" y="573.5" width="0.55" height="0.55"/>
<rect x="103.9" y="575.8" width="0.55" height="0.55"/>
<rect x="92.3" y="573.9" width="0.55" height="0.55"/>
<rect x="105.9" y="570.0" width="0.55" height="0.55"/>
<rect x="93.4" y="571.1" width="0.55" height="0.55"/>
<rect x="102.7" y="580.3" width="0.55" height="0.55"/>
<rect x="92.8" y="568.7" width="0.55" height="0.55"/>
<rect x="94.5" y="571.6" width="0.55" height="0.55"/>
<rect x="99.4" y="568.7" width="0.55" height="0.55"/>
<rect x="95.9" y="569.2" width="0.55" height="0.55"/>
<rect x="107.6" y="578.4" width="0.55" height="0.55"/>
<rect x="91.8" y="582.4" width="0.55" height="0.55"/>
<rect x="91.8" y="572.5" width="0.55" height="0.55"/>
<rect x="107.7" y="579.5" width="0.55" height="0.55"/>
<rect x="103.2" y="573.4" width="0.55" height="0.55"/>
<rect x="93.5" y="576.8" width="0.55" height="0.55"/>
<rect x="91.9" y="569.5" width="0.55" height="0.55"/>
<rect x="97.0" y="566.6" width="0.55" height="0.55"/>
<rect x="97.2" y="579.4" width="0.55" height="0.55"/>
<rect x="102.5" y="574.5" width="0.55" height="0.55"/>
<rect x="101.4" y="573.9" width="0.55" height="0.55"/>
<rect x="92.6" y="576.3" width="0.55" height="0.55"/>
<rect x="97.3" y="578.6" width="0.55" height="0.55"/>
<rect x="106.3" y="573.3" width="0.55" height="0.55"/>
<rect x="100.3" y="578.7" width="0.55" height="0.55"/>
<rect x="103.9" y="555.5" width="0.55" height="0.55"/>
<rect x="108.1" y="571.1" width="0.55" height="0.55"/>
<rect x="108.8" y="566.8" width="0.55" height="0.55"/>
<rect x="109.9" y="566.3" width="0.55" height="0.55"/>
<rect x="107.0" y="560.9" width="0.55" height="0.55"/>
<rect x="102.4" y="565.1" width="0.55" height="0.55"/>
<rect x="99.4" y="560.1" width="0.55" height="0.55"/>
<rect x="109.0" y="567.1" width="0.55" height="0.55"/>
<rect x="106.8" y="556.0" width="0.55" height="0.55"/>
<rect x="103.9" y="560.9" width="0.55" height="0.55"/>
<rect x="106.7" y="559.8" width="0.55" height="0.55"/>
<rect x="107.5" y="572.3" width="0.55" height="0.55"/>
<rect x="100.6" y="565.7" width="0.55" height="0.55"/>
<rect x="108.9" y="559.3" width="0.55" height="0.55"/>
<rect x="104.9" y="573.4" width="0.55" height="0.55"/>
<rect x="98.5" y="563.0" width="0.55" height="0.55"/>
<rect x="100.3" y="568.8" width="0.55" height="0.55"/>
<rect x="111.2" y="562.5" width="0.55" height="0.55"/>
<rect x="99.4" y="563.8" width="0.55" height="0.55"/>
<rect x="105.6" y="567.2" width="0.55" height="0.55"/>
<rect x="105.2" y="565.3" width="0.55" height="0.55"/>
<rect x="109.6" y="562.5" width="0.55" height="0.55"/>
<rect x="103.7" y="572.8" width="0.55" height="0.55"/>
<rect x="100.9" y="566.4" width="0.55" height="0.55"/>
<rect x="103.5" y="568.3" width="0.55" height="0.55"/>
<rect x="99.7" y="573.6" width="0.55" height="0.55"/>
<rect x="103.0" y="551.4" width="0.55" height="0.55"/>
<rect x="101.8" y="559.6" width="0.55" height="0.55"/>
<rect x="98.2" y="560.0" width="0.55" height="0.55"/>
<rect x="103.9" y="566.8" width="0.55" height="0.55"/>
<rect x="102.9" y="556.4" width="0.55" height="0.55"/>
<rect x="101.1" y="567.8" width="0.55" height="0.55"/>
<rect x="111.2" y="562.6" width="0.55" height="0.55"/>
<rect x="101.1" y="569.2" width="0.55" height="0.55"/>
<rect x="103.5" y="555.1" width="0.55" height="0.55"/>
<rect x="99.8" y="568.6" width="0.55" height="0.55"/>
<rect x="109.3" y="565.2" width="0.55" height="0.55"/>
<rect x="104.6" y="563.5" width="0.55" height="0.55"/>
<rect x="101.2" y="573.1" width="0.55" height="0.55"/>
<rect x="102.9" y="565.3" width="0.55" height="0.55"/>
<rect x="109.5" y="569.6" width="0.55" height="0.55"/>
<rect x="104.6" y="557.1" width="0.55" height="0.55"/>
<rect x="105.7" y="553.0" width="0.55" height="0.55"/>
<rect x="109.7" y="558.5" width="0.55" height="0.55"/>
<rect x="109.9" y="556.4" width="0.55" height="0.55"/>
<rect x="103.3" y="556.1" width="0.55" height="0.55"/>
<rect x="104.0" y="554.5" width="0.55" height="0.55"/>
<rect x="98.0" y="567.3" width="0.55" height="0.55"/>
<rect x="101.9" y="555.9" width="0.55" height="0.55"/>
<rect x="102.2" y="561.5" width="0.55" height="0.55"/>
<rect x="104.0" y="565.3" width="0.55" height="0.55"/>
<rect x="107.2" y="558.7" width="0.55" height="0.55"/>
<rect x="111.0" y="570.5" width="0.55" height="0.55"/>
<rect x="98.8" y="569.9" width="0.55" height="0.55"/>
<rect x="110.7" y="568.8" width="0.55" height="0.55"/>
<rect x="100.0" y="570.0" width="0.55" height="0.55"/>
<rect x="106.9" y="550.4" width="0.55" height="0.55"/>
<rect x="98.2" y="572.8" width="0.55" height="0.55"/>
<rect x="107.2" y="556.0" width="0.55" height="0.55"/>
<rect x="99.4" y="553.4" width="0.55" height="0.55"/>
<rect x="101.3" y="568.6" width="0.55" height="0.55"/>
<rect x="102.9" y="553.7" width="0.55" height="0.55"/>
<rect x="110.7" y="569.0" width="0.55" height="0.55"/>
<rect x="100.4" y="571.4" width="0.55" height="0.55"/>
<rect x="106.5" y="568.8" width="0.55" height="0.55"/>
<rect x="107.4" y="571.5" width="0.55" height="0.55"/>
<rect x="109.0" y="570.1" width="0.55" height="0.55"/>
<rect x="100.8" y="566.6" width="0.55" height="0.55"/>
<rect x="105.4" y="567.8" width="0.55" height="0.55"/>
<rect x="104.1" y="571.2" width="0.55" height="0.55"/>
<rect x="105.8" y="556.3" width="0.55" height="0.55"/>
<rect x="101.3" y="553.3" width="0.55" height="0.55"/>
<rect x="104.9" y="551.4" width="0.55" height="0.55"/>
<rect x="104.5" y="553.5" width="0.55" height="0.55"/>
<rect x="104.9" y="562.0" width="0.55" height="0.55"/>
<rect x="105.6" y="570.7" width="0.55" height="0.55"/>
<rect x="98.1" y="570.2" width="0.55" height="0.55"/>
<rect x="104.6" y="563.5" width="0.55" height="0.55"/>
<rect x="107.3" y="570.2" width="0.55" height="0.55"/>
<rect x="103.2" y="560.1" width="0.55" height="0.55"/>
<rect x="100.4" y="541.5" width="0.55" height="0.55"/>
<rect x="87.5" y="544.8" width="0.55" height="0.55"/>
<rect x="63.1" y="544.7" width="0.55" height="0.55"/>
<rect x="89.3" y="546.6" width="0.55" height="0.55"/>
<rect x="75.2" y="546.9" width="0.55" height="0.55"/>
<rect x="82.4" y="543.9" width="0.55" height="0.55"/>
<rect x="97.9" y="541.2" width="0.55" height="0.55"/>
<rect x="90.7" y="544.8" width="0.55" height="0.55"/>
<rect x="75.5" y="546.2" width="0.55" height="0.55"/>
<rect x="76.6" y="543.8" width="0.55" height="0.55"/>
<rect x="83.0" y="545.6" width="0.55" height="0.55"/>
<rect x="70.4" y="543.6" width="0.55" height="0.55"/>
<rect x="78.9" y="544.3" width="0.55" height="0.55"/>
<rect x="95.1" y="542.8" width="0.55" height="0.55"/>
<rect x="95.1" y="543.4" width="0.55" height="0.55"/>
<rect x="82.1" y="542.6" width="0.55" height="0.55"/>
<rect x="82.3" y="546.8" width="0.55" height="0.55"/>
<rect x="88.2" y="545.8" width="0.55" height="0.55"/>
<rect x="75.2" y="542.9" width="0.55" height="0.55"/>
<rect x="74.0" y="544.5" width="0.55" height="0.55"/>
<rect x="87.4" y="545.7" width="0.55" height="0.55"/>
<rect x="63.6" y="545.3" width="0.55" height="0.55"/>
<rect x="97.4" y="544.3" width="0.55" height="0.55"/>
<rect x="64.0" y="542.8" width="0.55" height="0.55"/>
<rect x="62.2" y="542.1" width="0.55" height="0.55"/>
<rect x="98.9" y="544.7" width="0.55" height="0.55"/>
<rect x="88.3" y="545.7" width="0.55" height="0.55"/>
<rect x="98.4" y="544.7" width="0.55" height="0.55"/>
<rect x="86.7" y="544.8" width="0.55" height="0.55"/>
<rect x="89.9" y="544.6" width="0.55" height="0.55"/>
<rect x="89.2" y="542.3" width="0.55" height="0.55"/>
<rect x="88.7" y="543.7" width="0.55" height="0.55"/>
<rect x="92.5" y="541.6" width="0.55" height="0.55"/>
<rect x="69.3" y="541.2" width="0.55" height="0.55"/>
<rect x="93.0" y="546.5" width="0.55" height="0.55"/>
<rect x="88.2" y="543.2" width="0.55" height="0.55"/>
<rect x="94.9" y="545.7" width="0.55" height="0.55"/>
<rect x="84.5" y="542.5" width="0.55" height="0.55"/>
<rect x="74.1" y="543.5" width="0.55" height="0.55"/>
<rect x="74.7" y="543.6" width="0.55" height="0.55"/>
<rect x="87.7" y="546.6" width="0.55" height="0.55"/>
<rect x="64.2" y="544.4" width="0.55" height="0.55"/>
<rect x="63.6" y="541.7" width="0.55" height="0.55"/>
<rect x="94.4" y="544.5" width="0.55" height="0.55"/>
<rect x="98.7" y="543.7" width="0.55" height="0.55"/>
<rect x="62.6" y="543.3" width="0.55" height="0.55"/>
<rect x="85.7" y="546.6" width="0.55" height="0.55"/>
<rect x="101.2" y="543.9" width="0.55" height="0.55"/>
<rect x="78.5" y="541.6" width="0.55" height="0.55"/>
<rect x="87.8" y="542.3" width="0.55" height="0.55"/>
<rect x="68.1" y="541.1" width="0.55" height="0.55"/>
<rect x="62.2" y="545.1" width="0.55" height="0.55"/>
<rect x="66.9" y="546.8" width="0.55" height="0.55"/>
<rect x="65.5" y="546.2" width="0.55" height="0.55"/>
<rect x="67.2" y="541.1" width="0.55" height="0.55"/>
<rect x="90.8" y="542.5" width="0.55" height="0.55"/>
<rect x="91.3" y="542.1" width="0.55" height="0.55"/>
<rect x="64.0" y="545.6" width="0.55" height="0.55"/>
<rect x="90.5" y="546.1" width="0.55" height="0.55"/>
<rect x="91.2" y="541.5" width="0.55" height="0.55"/>
<rect x="87.1" y="545.3" width="0.55" height="0.55"/>
<rect x="80.4" y="546.6" width="0.55" height="0.55"/>
<rect x="72.2" y="546.8" width="0.55" height="0.55"/>
<rect x="90.7" y="541.1" width="0.55" height="0.55"/>
<rect x="62.6" y="544.9" width="0.55" height="0.55"/>
<rect x="94.7" y="541.5" width="0.55" height="0.55"/>
<rect x="74.4" y="545.4" width="0.55" height="0.55"/>
<rect x="68.6" y="546.2" width="0.55" height="0.55"/>
<rect x="81.5" y="541.4" width="0.55" height="0.55"/>
<rect x="76.7" y="544.4" width="0.55" height="0.55"/>
<rect x="56.1" y="547.5" width="0.55" height="0.55"/>
<rect x="54.0" y="549.2" width="0.55" height="0.55"/>
<rect x="55.5" y="547.0" width="0.55" height="0.55"/>
<rect x="57.4" y="543.9" width="0.55" height="0.55"/>
<rect x="55.7" y="549.0" width="0.55" height="0.55"/>
<rect x="59.6" y="549.0" width="0.55" height="0.55"/>
<rect x="57.0" y="542.1" width="0.55" height="0.55"/>
<rect x="53.4" y="551.6" width="0.55" height="0.55"/>
<rect x="57.9" y="549.6" width="0.55" height="0.55"/>
<rect x="55.3" y="546.5" width="0.55" height="0.55"/>
<rect x="59.8" y="549.6" width="0.55" height="0.55"/>
<rect x="57.2" y="542.3" width="0.55" height="0.55"/>
<rect x="56.0" y="550.4" width="0.55" height="0.55"/>
<rect x="55.6" y="547.6" width="0.55" height="0.55"/>
<rect x="57.2" y="550.5" width="0.55" height="0.55"/>
<rect x="58.7" y="542.0" width="0.55" height="0.55"/>
<rect x="53.0" y="541.7" width="0.55" height="0.55"/>
<rect x="56.0" y="546.2" width="0.55" height="0.55"/>
<rect x="58.7" y="550.4" width="0.55" height="0.55"/>
<rect x="53.3" y="549.7" width="0.55" height="0.55"/>
<rect x="58.7" y="550.1" width="0.55" height="0.55"/>
<rect x="57.0" y="541.8" width="0.55" height="0.55"/>
<rect x="59.0" y="549.3" width="0.55" height="0.55"/>
<rect x="57.8" y="550.8" width="0.55" height="0.55"/>
<rect x="55.4" y="539.2" width="0.55" height="0.55"/>
<rect x="56.9" y="549.2" width="0.55" height="0.55"/>
<rect x="54.4" y="548.5" width="0.55" height="0.55"/>
<rect x="59.5" y="541.3" width="0.55" height="0.55"/>
<rect x="57.2" y="547.5" width="0.55" height="0.55"/>
<rect x="56.3" y="540.9" width="0.55" height="0.55"/>
<rect x="54.8" y="548.5" width="0.55" height="0.55"/>
<rect x="58.5" y="544.4" width="0.55" height="0.55"/>
<rect x="53.6" y="549.3" width="0.55" height="0.55"/>
<rect x="58.4" y="541.3" width="0.55" height="0.55"/>
<rect x="57.1" y="550.6" width="0.55" height="0.55"/>
<rect x="59.2" y="545.3" width="0.55" height="0.55"/>
<rect x="56.3" y="546.3" width="0.55" height="0.55"/>
<rect x="54.3" y="540.7" width="0.55" height="0.55"/>
<rect x="54.3" y="547.8" width="0.55" height="0.55"/>
<rect x="55.5" y="545.9" width="0.55" height="0.55"/>
</g>
<path d="M49.2 584 C49.2 579.8 52 578.6 56 578.8 C60 579 63 580 66 580.3 C75 580.8 84 581.2 91 582 C94.5 582.8 94.5 585.4 91 586.1 C84 587 75 587.6 66 588 C63 588.3 60 589.2 56 589.2 C52 589.2 49.2 588 49.2 584 Z" fill="url(#jet2)" filter="url(#blur05)"/>
<path d="M93 584 L112 584.3" stroke="#3a4aa8" stroke-width="0.7" stroke-dasharray="1 0.8"/>
<ellipse cx="55.8" cy="566" rx="4.6" ry="13.8" fill="url(#jet3)" filter="url(#blur05)"/>
<path d="M64.5 560 C64.5 550.5 75 545.8 87 545.8 C97 545.8 102.5 550 102.2 557 C101.8 565 92 571 80 574.6 C72 576.3 64.5 569 64.5 560 Z" fill="url(#jet1)" filter="url(#blur05)"/>
<rect x="41.90" y="534.00" width="64.80" height="29.50" fill="none" stroke="#7f94a8" stroke-width="0.8" />
<rect x="31.50" y="516.50" width="83.50" height="85.50" fill="none" stroke="#2a2a2a" stroke-width="1" />
<line x1="29.00" y1="527.00" x2="31.70" y2="527.00" stroke="#222" stroke-width="0.9" />
<line x1="30.20" y1="521.73" x2="31.70" y2="521.73" stroke="#333" stroke-width="0.7" />
<line x1="30.20" y1="518.65" x2="31.70" y2="518.65" stroke="#333" stroke-width="0.7" />
<line x1="29.00" y1="544.50" x2="31.70" y2="544.50" stroke="#222" stroke-width="0.9" />
<line x1="30.20" y1="539.23" x2="31.70" y2="539.23" stroke="#333" stroke-width="0.7" />
<line x1="30.20" y1="536.15" x2="31.70" y2="536.15" stroke="#333" stroke-width="0.7" />
<line x1="30.20" y1="533.96" x2="31.70" y2="533.96" stroke="#333" stroke-width="0.7" />
<line x1="30.20" y1="532.27" x2="31.70" y2="532.27" stroke="#333" stroke-width="0.7" />
<line x1="30.20" y1="530.88" x2="31.70" y2="530.88" stroke="#333" stroke-width="0.7" />
<line x1="30.20" y1="529.71" x2="31.70" y2="529.71" stroke="#333" stroke-width="0.7" />
<line x1="30.20" y1="528.70" x2="31.70" y2="528.70" stroke="#333" stroke-width="0.7" />
<line x1="30.20" y1="527.80" x2="31.70" y2="527.80" stroke="#333" stroke-width="0.7" />
<line x1="29.00" y1="562.00" x2="31.70" y2="562.00" stroke="#222" stroke-width="0.9" />
<line x1="30.20" y1="556.73" x2="31.70" y2="556.73" stroke="#333" stroke-width="0.7" />
<line x1="30.20" y1="553.65" x2="31.70" y2="553.65" stroke="#333" stroke-width="0.7" />
<line x1="30.20" y1="551.46" x2="31.70" y2="551.46" stroke="#333" stroke-width="0.7" />
<line x1="30.20" y1="549.77" x2="31.70" y2="549.77" stroke="#333" stroke-width="0.7" />
<line x1="30.20" y1="548.38" x2="31.70" y2="548.38" stroke="#333" stroke-width="0.7" />
<line x1="30.20" y1="547.21" x2="31.70" y2="547.21" stroke="#333" stroke-width="0.7" />
<line x1="30.20" y1="546.20" x2="31.70" y2="546.20" stroke="#333" stroke-width="0.7" />
<line x1="30.20" y1="545.30" x2="31.70" y2="545.30" stroke="#333" stroke-width="0.7" />
<line x1="29.00" y1="579.50" x2="31.70" y2="579.50" stroke="#222" stroke-width="0.9" />
<line x1="30.20" y1="574.23" x2="31.70" y2="574.23" stroke="#333" stroke-width="0.7" />
<line x1="30.20" y1="571.15" x2="31.70" y2="571.15" stroke="#333" stroke-width="0.7" />
<line x1="30.20" y1="568.96" x2="31.70" y2="568.96" stroke="#333" stroke-width="0.7" />
<line x1="30.20" y1="567.27" x2="31.70" y2="567.27" stroke="#333" stroke-width="0.7" />
<line x1="30.20" y1="565.88" x2="31.70" y2="565.88" stroke="#333" stroke-width="0.7" />
<line x1="30.20" y1="564.71" x2="31.70" y2="564.71" stroke="#333" stroke-width="0.7" />
<line x1="30.20" y1="563.70" x2="31.70" y2="563.70" stroke="#333" stroke-width="0.7" />
<line x1="30.20" y1="562.80" x2="31.70" y2="562.80" stroke="#333" stroke-width="0.7" />
<line x1="29.00" y1="597.00" x2="31.70" y2="597.00" stroke="#222" stroke-width="0.9" />
<line x1="30.20" y1="591.73" x2="31.70" y2="591.73" stroke="#333" stroke-width="0.7" />
<line x1="30.20" y1="588.65" x2="31.70" y2="588.65" stroke="#333" stroke-width="0.7" />
<line x1="30.20" y1="586.46" x2="31.70" y2="586.46" stroke="#333" stroke-width="0.7" />
<line x1="30.20" y1="584.77" x2="31.70" y2="584.77" stroke="#333" stroke-width="0.7" />
<line x1="30.20" y1="583.38" x2="31.70" y2="583.38" stroke="#333" stroke-width="0.7" />
<line x1="30.20" y1="582.21" x2="31.70" y2="582.21" stroke="#333" stroke-width="0.7" />
<line x1="30.20" y1="581.20" x2="31.70" y2="581.20" stroke="#333" stroke-width="0.7" />
<line x1="30.20" y1="580.30" x2="31.70" y2="580.30" stroke="#333" stroke-width="0.7" />
<line x1="35.00" y1="601.90" x2="35.00" y2="604.50" stroke="#222" stroke-width="0.9" />
<line x1="39.36" y1="601.90" x2="39.36" y2="603.50" stroke="#333" stroke-width="0.7" />
<line x1="41.92" y1="601.90" x2="41.92" y2="603.50" stroke="#333" stroke-width="0.7" />
<line x1="43.73" y1="601.90" x2="43.73" y2="603.50" stroke="#333" stroke-width="0.7" />
<line x1="45.14" y1="601.90" x2="45.14" y2="603.50" stroke="#333" stroke-width="0.7" />
<line x1="46.28" y1="601.90" x2="46.28" y2="603.50" stroke="#333" stroke-width="0.7" />
<line x1="47.25" y1="601.90" x2="47.25" y2="603.50" stroke="#333" stroke-width="0.7" />
<line x1="48.09" y1="601.90" x2="48.09" y2="603.50" stroke="#333" stroke-width="0.7" />
<line x1="48.84" y1="601.90" x2="48.84" y2="603.50" stroke="#333" stroke-width="0.7" />
<line x1="49.50" y1="601.90" x2="49.50" y2="604.50" stroke="#222" stroke-width="0.9" />
<line x1="53.86" y1="601.90" x2="53.86" y2="603.50" stroke="#333" stroke-width="0.7" />
<line x1="56.42" y1="601.90" x2="56.42" y2="603.50" stroke="#333" stroke-width="0.7" />
<line x1="58.23" y1="601.90" x2="58.23" y2="603.50" stroke="#333" stroke-width="0.7" />
<line x1="59.64" y1="601.90" x2="59.64" y2="603.50" stroke="#333" stroke-width="0.7" />
<line x1="60.78" y1="601.90" x2="60.78" y2="603.50" stroke="#333" stroke-width="0.7" />
<line x1="61.75" y1="601.90" x2="61.75" y2="603.50" stroke="#333" stroke-width="0.7" />
<line x1="62.59" y1="601.90" x2="62.59" y2="603.50" stroke="#333" stroke-width="0.7" />
<line x1="63.34" y1="601.90" x2="63.34" y2="603.50" stroke="#333" stroke-width="0.7" />
<line x1="64.00" y1="601.90" x2="64.00" y2="604.50" stroke="#222" stroke-width="0.9" />
<line x1="68.36" y1="601.90" x2="68.36" y2="603.50" stroke="#333" stroke-width="0.7" />
<line x1="70.92" y1="601.90" x2="70.92" y2="603.50" stroke="#333" stroke-width="0.7" />
<line x1="72.73" y1="601.90" x2="72.73" y2="603.50" stroke="#333" stroke-width="0.7" />
<line x1="74.14" y1="601.90" x2="74.14" y2="603.50" stroke="#333" stroke-width="0.7" />
<line x1="75.28" y1="601.90" x2="75.28" y2="603.50" stroke="#333" stroke-width="0.7" />
<line x1="76.25" y1="601.90" x2="76.25" y2="603.50" stroke="#333" stroke-width="0.7" />
<line x1="77.09" y1="601.90" x2="77.09" y2="603.50" stroke="#333" stroke-width="0.7" />
<line x1="77.84" y1="601.90" x2="77.84" y2="603.50" stroke="#333" stroke-width="0.7" />
<line x1="78.50" y1="601.90" x2="78.50" y2="604.50" stroke="#222" stroke-width="0.9" />
<line x1="82.86" y1="601.90" x2="82.86" y2="603.50" stroke="#333" stroke-width="0.7" />
<line x1="85.42" y1="601.90" x2="85.42" y2="603.50" stroke="#333" stroke-width="0.7" />
<line x1="87.23" y1="601.90" x2="87.23" y2="603.50" stroke="#333" stroke-width="0.7" />
<line x1="88.64" y1="601.90" x2="88.64" y2="603.50" stroke="#333" stroke-width="0.7" />
<line x1="89.78" y1="601.90" x2="89.78" y2="603.50" stroke="#333" stroke-width="0.7" />
<line x1="90.75" y1="601.90" x2="90.75" y2="603.50" stroke="#333" stroke-width="0.7" />
<line x1="91.59" y1="601.90" x2="91.59" y2="603.50" stroke="#333" stroke-width="0.7" />
<line x1="92.34" y1="601.90" x2="92.34" y2="603.50" stroke="#333" stroke-width="0.7" />
<line x1="93.00" y1="601.90" x2="93.00" y2="604.50" stroke="#222" stroke-width="0.9" />
<line x1="97.36" y1="601.90" x2="97.36" y2="603.50" stroke="#333" stroke-width="0.7" />
<line x1="99.92" y1="601.90" x2="99.92" y2="603.50" stroke="#333" stroke-width="0.7" />
<line x1="101.73" y1="601.90" x2="101.73" y2="603.50" stroke="#333" stroke-width="0.7" />
<line x1="103.14" y1="601.90" x2="103.14" y2="603.50" stroke="#333" stroke-width="0.7" />
<line x1="104.28" y1="601.90" x2="104.28" y2="603.50" stroke="#333" stroke-width="0.7" />
<line x1="105.25" y1="601.90" x2="105.25" y2="603.50" stroke="#333" stroke-width="0.7" />
<line x1="106.09" y1="601.90" x2="106.09" y2="603.50" stroke="#333" stroke-width="0.7" />
<line x1="106.84" y1="601.90" x2="106.84" y2="603.50" stroke="#333" stroke-width="0.7" />
<line x1="107.50" y1="601.90" x2="107.50" y2="604.50" stroke="#222" stroke-width="0.9" />
<line x1="111.86" y1="601.90" x2="111.86" y2="603.50" stroke="#333" stroke-width="0.7" />
<line x1="114.42" y1="601.90" x2="114.42" y2="603.50" stroke="#333" stroke-width="0.7" />
<text x="32.80" y="527.80" font-size="6.3" fill="#333" textLength="18.50" lengthAdjust="spacingAndGlyphs" >CD45+</text>
<line x1="52.60" y1="525.60" x2="57.80" y2="525.60" stroke="#333" stroke-width="0.6" />
<path d="M57 524.2 L60 525.6 L57 527 Z" fill="#333"/>
<text x="56.70" y="523.50" font-size="6.3" fill="#333" textLength="57.70" lengthAdjust="spacingAndGlyphs" >CD14–CD33–CD19–</text>
<text x="67.70" y="530.30" font-size="6.3" fill="#333" textLength="36.10" lengthAdjust="spacingAndGlyphs" >CD20–CD3–</text>
<rect x="0.50" y="0.50" width="519.00" height="628.00" fill="none" stroke="#5c5c5c" stroke-width="1" />
</svg>
</body></html>
